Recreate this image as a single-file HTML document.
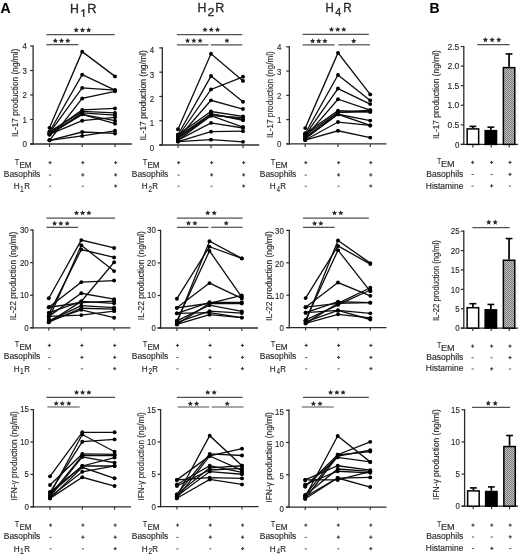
<!DOCTYPE html>
<html><head><meta charset="utf-8"><style>
html,body{margin:0;padding:0;background:#fff;}
body{width:520px;height:555px;overflow:hidden;}
svg{display:block;font-family:"Liberation Sans", sans-serif;filter:blur(0.22px);}
text{stroke:#2a2a2a;stroke-width:0.14px;}
text.ttl{stroke-width:0.3px;}
</style></head><body>
<svg width="520" height="555" viewBox="0 0 520 555">
<rect width="520" height="555" fill="#fff"/>
<defs><pattern id="hatch" width="2" height="2" patternUnits="userSpaceOnUse"><rect width="2" height="2" fill="#c0c0c0"/><rect width="1" height="1" fill="#7c7c7c"/><rect x="1" y="1" width="1" height="1" fill="#7c7c7c"/></pattern></defs><line x1="33.1" y1="45.4" x2="33.1" y2="144.6" stroke="#2b2b2b" stroke-width="1.3"/><line x1="30.1" y1="144.0" x2="131.8" y2="144.0" stroke="#2b2b2b" stroke-width="1.3"/><line x1="30.1" y1="144.0" x2="33.1" y2="144.0" stroke="#2b2b2b" stroke-width="1.2"/><text x="26.9" y="147.25" font-size="8.3" text-anchor="end" fill="#2a2a2a" textLength="4.39" lengthAdjust="spacingAndGlyphs">0</text><line x1="30.1" y1="119.5" x2="33.1" y2="119.5" stroke="#2b2b2b" stroke-width="1.2"/><text x="26.9" y="122.75" font-size="8.3" text-anchor="end" fill="#2a2a2a" textLength="4.39" lengthAdjust="spacingAndGlyphs">1</text><line x1="30.1" y1="95.0" x2="33.1" y2="95.0" stroke="#2b2b2b" stroke-width="1.2"/><text x="26.9" y="98.25" font-size="8.3" text-anchor="end" fill="#2a2a2a" textLength="4.39" lengthAdjust="spacingAndGlyphs">2</text><line x1="30.1" y1="70.5" x2="33.1" y2="70.5" stroke="#2b2b2b" stroke-width="1.2"/><text x="26.9" y="73.75" font-size="8.3" text-anchor="end" fill="#2a2a2a" textLength="4.39" lengthAdjust="spacingAndGlyphs">3</text><line x1="30.1" y1="46.0" x2="33.1" y2="46.0" stroke="#2b2b2b" stroke-width="1.2"/><text x="26.9" y="49.25" font-size="8.3" text-anchor="end" fill="#2a2a2a" textLength="4.39" lengthAdjust="spacingAndGlyphs">4</text><line x1="49.5" y1="144.0" x2="49.5" y2="147.0" stroke="#2b2b2b" stroke-width="1.1"/><line x1="82.2" y1="144.0" x2="82.2" y2="147.0" stroke="#2b2b2b" stroke-width="1.1"/><line x1="115.0" y1="144.0" x2="115.0" y2="147.0" stroke="#2b2b2b" stroke-width="1.1"/><text transform="translate(18.20,137.00) rotate(-90)" font-size="8.4" fill="#2a2a2a" textLength="88.40" lengthAdjust="spacingAndGlyphs">IL-17 production (ng/ml)</text><polyline points="49.5,127.83 82.2,51.64 115.0,76.38" fill="none" stroke="#0d0d0d" stroke-width="1.3"/><polyline points="49.5,131.75 82.2,74.66 115.0,90.10" fill="none" stroke="#0d0d0d" stroke-width="1.3"/><polyline points="49.5,132.97 82.2,87.89 115.0,90.10" fill="none" stroke="#0d0d0d" stroke-width="1.3"/><polyline points="49.5,140.32 82.2,98.43 115.0,91.33" fill="none" stroke="#0d0d0d" stroke-width="1.3"/><polyline points="49.5,132.97 82.2,109.94 115.0,108.47" fill="none" stroke="#0d0d0d" stroke-width="1.3"/><polyline points="49.5,131.75 82.2,111.41 115.0,112.88" fill="none" stroke="#0d0d0d" stroke-width="1.3"/><polyline points="49.5,134.44 82.2,112.88 115.0,115.09" fill="none" stroke="#0d0d0d" stroke-width="1.3"/><polyline points="49.5,134.44 82.2,114.36 115.0,120.72" fill="none" stroke="#0d0d0d" stroke-width="1.3"/><polyline points="49.5,132.97 82.2,114.36 115.0,123.67" fill="none" stroke="#0d0d0d" stroke-width="1.3"/><polyline points="49.5,134.44 82.2,120.72 115.0,117.30" fill="none" stroke="#0d0d0d" stroke-width="1.3"/><polyline points="49.5,140.32 82.2,132.00 115.0,133.47" fill="none" stroke="#0d0d0d" stroke-width="1.3"/><polyline points="49.5,140.32 82.2,135.91 115.0,130.77" fill="none" stroke="#0d0d0d" stroke-width="1.3"/><circle cx="49.5" cy="127.83" r="1.95" fill="#000"/><circle cx="82.2" cy="51.64" r="1.95" fill="#000"/><circle cx="115.0" cy="76.38" r="1.95" fill="#000"/><circle cx="49.5" cy="131.75" r="1.95" fill="#000"/><circle cx="82.2" cy="74.66" r="1.95" fill="#000"/><circle cx="115.0" cy="90.10" r="1.95" fill="#000"/><circle cx="49.5" cy="132.97" r="1.95" fill="#000"/><circle cx="82.2" cy="87.89" r="1.95" fill="#000"/><circle cx="115.0" cy="90.10" r="1.95" fill="#000"/><circle cx="49.5" cy="140.32" r="1.95" fill="#000"/><circle cx="82.2" cy="98.43" r="1.95" fill="#000"/><circle cx="115.0" cy="91.33" r="1.95" fill="#000"/><circle cx="49.5" cy="132.97" r="1.95" fill="#000"/><circle cx="82.2" cy="109.94" r="1.95" fill="#000"/><circle cx="115.0" cy="108.47" r="1.95" fill="#000"/><circle cx="49.5" cy="131.75" r="1.95" fill="#000"/><circle cx="82.2" cy="111.41" r="1.95" fill="#000"/><circle cx="115.0" cy="112.88" r="1.95" fill="#000"/><circle cx="49.5" cy="134.44" r="1.95" fill="#000"/><circle cx="82.2" cy="112.88" r="1.95" fill="#000"/><circle cx="115.0" cy="115.09" r="1.95" fill="#000"/><circle cx="49.5" cy="134.44" r="1.95" fill="#000"/><circle cx="82.2" cy="114.36" r="1.95" fill="#000"/><circle cx="115.0" cy="120.72" r="1.95" fill="#000"/><circle cx="49.5" cy="132.97" r="1.95" fill="#000"/><circle cx="82.2" cy="114.36" r="1.95" fill="#000"/><circle cx="115.0" cy="123.67" r="1.95" fill="#000"/><circle cx="49.5" cy="134.44" r="1.95" fill="#000"/><circle cx="82.2" cy="120.72" r="1.95" fill="#000"/><circle cx="115.0" cy="117.30" r="1.95" fill="#000"/><circle cx="49.5" cy="140.32" r="1.95" fill="#000"/><circle cx="82.2" cy="132.00" r="1.95" fill="#000"/><circle cx="115.0" cy="133.47" r="1.95" fill="#000"/><circle cx="49.5" cy="140.32" r="1.95" fill="#000"/><circle cx="82.2" cy="135.91" r="1.95" fill="#000"/><circle cx="115.0" cy="130.77" r="1.95" fill="#000"/><line x1="46.4" y1="34.6" x2="114.8" y2="34.6" stroke="#505050" stroke-width="1.2"/><polygon points="76.20,27.30 76.97,29.04 78.86,29.23 77.45,30.51 77.85,32.37 76.20,31.42 74.55,32.37 74.95,30.51 73.54,29.23 75.43,29.04" fill="#2a2a2a"/><polygon points="82.50,27.30 83.27,29.04 85.16,29.23 83.75,30.51 84.15,32.37 82.50,31.42 80.85,32.37 81.25,30.51 79.84,29.23 81.73,29.04" fill="#2a2a2a"/><polygon points="88.70,27.30 89.47,29.04 91.36,29.23 89.95,30.51 90.35,32.37 88.70,31.42 87.05,32.37 87.45,30.51 86.04,29.23 87.93,29.04" fill="#2a2a2a"/><line x1="46.4" y1="44.7" x2="78.4" y2="44.7" stroke="#505050" stroke-width="1.2"/><polygon points="55.30,38.00 56.07,39.74 57.96,39.93 56.55,41.21 56.95,43.07 55.30,42.12 53.65,43.07 54.05,41.21 52.64,39.93 54.53,39.74" fill="#2a2a2a"/><polygon points="61.50,38.00 62.27,39.74 64.16,39.93 62.75,41.21 63.15,43.07 61.50,42.12 59.85,43.07 60.25,41.21 58.84,39.93 60.73,39.74" fill="#2a2a2a"/><polygon points="67.80,38.00 68.57,39.74 70.46,39.93 69.05,41.21 69.45,43.07 67.80,42.12 66.15,43.07 66.55,41.21 65.14,39.93 67.03,39.74" fill="#2a2a2a"/><line x1="162.3" y1="47.3" x2="162.3" y2="145.6" stroke="#2b2b2b" stroke-width="1.3"/><line x1="159.3" y1="145.0" x2="259.2" y2="145.0" stroke="#2b2b2b" stroke-width="1.3"/><line x1="159.3" y1="145.0" x2="162.3" y2="145.0" stroke="#2b2b2b" stroke-width="1.2"/><text x="154.2" y="150.55" font-size="8.3" text-anchor="end" fill="#2a2a2a" textLength="4.39" lengthAdjust="spacingAndGlyphs">0</text><line x1="159.3" y1="120.725" x2="162.3" y2="120.725" stroke="#2b2b2b" stroke-width="1.2"/><text x="154.2" y="126.27499999999999" font-size="8.3" text-anchor="end" fill="#2a2a2a" textLength="4.39" lengthAdjust="spacingAndGlyphs">1</text><line x1="159.3" y1="96.45" x2="162.3" y2="96.45" stroke="#2b2b2b" stroke-width="1.2"/><text x="154.2" y="102.0" font-size="8.3" text-anchor="end" fill="#2a2a2a" textLength="4.39" lengthAdjust="spacingAndGlyphs">2</text><line x1="159.3" y1="72.17500000000001" x2="162.3" y2="72.17500000000001" stroke="#2b2b2b" stroke-width="1.2"/><text x="154.2" y="77.72500000000001" font-size="8.3" text-anchor="end" fill="#2a2a2a" textLength="4.39" lengthAdjust="spacingAndGlyphs">3</text><line x1="159.3" y1="47.900000000000006" x2="162.3" y2="47.900000000000006" stroke="#2b2b2b" stroke-width="1.2"/><text x="154.2" y="53.45" font-size="8.3" text-anchor="end" fill="#2a2a2a" textLength="4.39" lengthAdjust="spacingAndGlyphs">4</text><line x1="178.0" y1="145.0" x2="178.0" y2="148.0" stroke="#2b2b2b" stroke-width="1.1"/><line x1="211.0" y1="145.0" x2="211.0" y2="148.0" stroke="#2b2b2b" stroke-width="1.1"/><line x1="243.0" y1="145.0" x2="243.0" y2="148.0" stroke="#2b2b2b" stroke-width="1.1"/><text transform="translate(146.00,140.60) rotate(-90)" font-size="8.4" fill="#2a2a2a" textLength="90.40" lengthAdjust="spacingAndGlyphs">IL-17 production (ng/ml)</text><polyline points="178.0,129.22 211.0,53.73 243.0,80.91" fill="none" stroke="#0d0d0d" stroke-width="1.3"/><polyline points="178.0,134.80 211.0,76.06 243.0,101.79" fill="none" stroke="#0d0d0d" stroke-width="1.3"/><polyline points="178.0,136.50 211.0,89.41 243.0,76.79" fill="none" stroke="#0d0d0d" stroke-width="1.3"/><polyline points="178.0,138.20 211.0,100.33 243.0,109.07" fill="none" stroke="#0d0d0d" stroke-width="1.3"/><polyline points="178.0,134.80 211.0,111.50 243.0,116.36" fill="none" stroke="#0d0d0d" stroke-width="1.3"/><polyline points="178.0,136.50 211.0,113.93 243.0,119.27" fill="none" stroke="#0d0d0d" stroke-width="1.3"/><polyline points="178.0,138.20 211.0,115.63 243.0,127.04" fill="none" stroke="#0d0d0d" stroke-width="1.3"/><polyline points="178.0,140.15 211.0,115.63 243.0,117.57" fill="none" stroke="#0d0d0d" stroke-width="1.3"/><polyline points="178.0,140.15 211.0,122.91 243.0,128.01" fill="none" stroke="#0d0d0d" stroke-width="1.3"/><polyline points="178.0,141.60 211.0,131.65 243.0,131.16" fill="none" stroke="#0d0d0d" stroke-width="1.3"/><polyline points="178.0,141.60 211.0,139.66 243.0,141.84" fill="none" stroke="#0d0d0d" stroke-width="1.3"/><polyline points="178.0,138.20 211.0,113.93 243.0,120.24" fill="none" stroke="#0d0d0d" stroke-width="1.3"/><circle cx="178.0" cy="129.22" r="1.95" fill="#000"/><circle cx="211.0" cy="53.73" r="1.95" fill="#000"/><circle cx="243.0" cy="80.91" r="1.95" fill="#000"/><circle cx="178.0" cy="134.80" r="1.95" fill="#000"/><circle cx="211.0" cy="76.06" r="1.95" fill="#000"/><circle cx="243.0" cy="101.79" r="1.95" fill="#000"/><circle cx="178.0" cy="136.50" r="1.95" fill="#000"/><circle cx="211.0" cy="89.41" r="1.95" fill="#000"/><circle cx="243.0" cy="76.79" r="1.95" fill="#000"/><circle cx="178.0" cy="138.20" r="1.95" fill="#000"/><circle cx="211.0" cy="100.33" r="1.95" fill="#000"/><circle cx="243.0" cy="109.07" r="1.95" fill="#000"/><circle cx="178.0" cy="134.80" r="1.95" fill="#000"/><circle cx="211.0" cy="111.50" r="1.95" fill="#000"/><circle cx="243.0" cy="116.36" r="1.95" fill="#000"/><circle cx="178.0" cy="136.50" r="1.95" fill="#000"/><circle cx="211.0" cy="113.93" r="1.95" fill="#000"/><circle cx="243.0" cy="119.27" r="1.95" fill="#000"/><circle cx="178.0" cy="138.20" r="1.95" fill="#000"/><circle cx="211.0" cy="115.63" r="1.95" fill="#000"/><circle cx="243.0" cy="127.04" r="1.95" fill="#000"/><circle cx="178.0" cy="140.15" r="1.95" fill="#000"/><circle cx="211.0" cy="115.63" r="1.95" fill="#000"/><circle cx="243.0" cy="117.57" r="1.95" fill="#000"/><circle cx="178.0" cy="140.15" r="1.95" fill="#000"/><circle cx="211.0" cy="122.91" r="1.95" fill="#000"/><circle cx="243.0" cy="128.01" r="1.95" fill="#000"/><circle cx="178.0" cy="141.60" r="1.95" fill="#000"/><circle cx="211.0" cy="131.65" r="1.95" fill="#000"/><circle cx="243.0" cy="131.16" r="1.95" fill="#000"/><circle cx="178.0" cy="141.60" r="1.95" fill="#000"/><circle cx="211.0" cy="139.66" r="1.95" fill="#000"/><circle cx="243.0" cy="141.84" r="1.95" fill="#000"/><circle cx="178.0" cy="138.20" r="1.95" fill="#000"/><circle cx="211.0" cy="113.93" r="1.95" fill="#000"/><circle cx="243.0" cy="120.24" r="1.95" fill="#000"/><line x1="176.9" y1="34.6" x2="242.3" y2="34.6" stroke="#505050" stroke-width="1.2"/><polygon points="205.00,27.00 205.77,28.74 207.66,28.93 206.25,30.21 206.65,32.07 205.00,31.12 203.35,32.07 203.75,30.21 202.34,28.93 204.23,28.74" fill="#2a2a2a"/><polygon points="211.25,27.00 212.02,28.74 213.91,28.93 212.50,30.21 212.90,32.07 211.25,31.12 209.60,32.07 210.00,30.21 208.59,28.93 210.48,28.74" fill="#2a2a2a"/><polygon points="217.50,27.00 218.27,28.74 220.16,28.93 218.75,30.21 219.15,32.07 217.50,31.12 215.85,32.07 216.25,30.21 214.84,28.93 216.73,28.74" fill="#2a2a2a"/><line x1="176.9" y1="44.9" x2="208.5" y2="44.9" stroke="#505050" stroke-width="1.2"/><polygon points="187.60,37.90 188.37,39.64 190.26,39.83 188.85,41.11 189.25,42.97 187.60,42.02 185.95,42.97 186.35,41.11 184.94,39.83 186.83,39.64" fill="#2a2a2a"/><polygon points="193.85,37.90 194.62,39.64 196.51,39.83 195.10,41.11 195.50,42.97 193.85,42.02 192.20,42.97 192.60,41.11 191.19,39.83 193.08,39.64" fill="#2a2a2a"/><polygon points="200.10,37.90 200.87,39.64 202.76,39.83 201.35,41.11 201.75,42.97 200.10,42.02 198.45,42.97 198.85,41.11 197.44,39.83 199.33,39.64" fill="#2a2a2a"/><line x1="210.8" y1="44.9" x2="242.3" y2="44.9" stroke="#505050" stroke-width="1.2"/><polygon points="226.90,37.90 227.67,39.64 229.56,39.83 228.15,41.11 228.55,42.97 226.90,42.02 225.25,42.97 225.65,41.11 224.24,39.83 226.13,39.64" fill="#2a2a2a"/><line x1="289.3" y1="46.199999999999996" x2="289.3" y2="144.5" stroke="#2b2b2b" stroke-width="1.3"/><line x1="286.3" y1="143.9" x2="386.5" y2="143.9" stroke="#2b2b2b" stroke-width="1.3"/><line x1="286.3" y1="143.9" x2="289.3" y2="143.9" stroke="#2b2b2b" stroke-width="1.2"/><text x="281.3" y="147.45000000000002" font-size="8.3" text-anchor="end" fill="#2a2a2a" textLength="4.39" lengthAdjust="spacingAndGlyphs">0</text><line x1="286.3" y1="119.625" x2="289.3" y2="119.625" stroke="#2b2b2b" stroke-width="1.2"/><text x="281.3" y="123.175" font-size="8.3" text-anchor="end" fill="#2a2a2a" textLength="4.39" lengthAdjust="spacingAndGlyphs">1</text><line x1="286.3" y1="95.35" x2="289.3" y2="95.35" stroke="#2b2b2b" stroke-width="1.2"/><text x="281.3" y="98.89999999999999" font-size="8.3" text-anchor="end" fill="#2a2a2a" textLength="4.39" lengthAdjust="spacingAndGlyphs">2</text><line x1="286.3" y1="71.075" x2="289.3" y2="71.075" stroke="#2b2b2b" stroke-width="1.2"/><text x="281.3" y="74.625" font-size="8.3" text-anchor="end" fill="#2a2a2a" textLength="4.39" lengthAdjust="spacingAndGlyphs">3</text><line x1="286.3" y1="46.8" x2="289.3" y2="46.8" stroke="#2b2b2b" stroke-width="1.2"/><text x="281.3" y="50.349999999999994" font-size="8.3" text-anchor="end" fill="#2a2a2a" textLength="4.39" lengthAdjust="spacingAndGlyphs">4</text><line x1="305.2" y1="143.9" x2="305.2" y2="146.9" stroke="#2b2b2b" stroke-width="1.1"/><line x1="338.0" y1="143.9" x2="338.0" y2="146.9" stroke="#2b2b2b" stroke-width="1.1"/><line x1="370.2" y1="143.9" x2="370.2" y2="146.9" stroke="#2b2b2b" stroke-width="1.1"/><text transform="translate(272.60,138.10) rotate(-90)" font-size="8.4" fill="#2a2a2a" textLength="86.90" lengthAdjust="spacingAndGlyphs">IL-17 production (ng/ml)</text><polyline points="305.2,128.12 338.0,52.87 370.2,94.38" fill="none" stroke="#0d0d0d" stroke-width="1.3"/><polyline points="305.2,133.46 338.0,74.96 370.2,100.45" fill="none" stroke="#0d0d0d" stroke-width="1.3"/><polyline points="305.2,135.16 338.0,88.55 370.2,104.09" fill="none" stroke="#0d0d0d" stroke-width="1.3"/><polyline points="305.2,137.10 338.0,99.23 370.2,110.16" fill="none" stroke="#0d0d0d" stroke-width="1.3"/><polyline points="305.2,133.46 338.0,110.64 370.2,111.86" fill="none" stroke="#0d0d0d" stroke-width="1.3"/><polyline points="305.2,135.16 338.0,112.34 370.2,110.16" fill="none" stroke="#0d0d0d" stroke-width="1.3"/><polyline points="305.2,137.10 338.0,114.28 370.2,120.60" fill="none" stroke="#0d0d0d" stroke-width="1.3"/><polyline points="305.2,138.80 338.0,114.28 370.2,125.45" fill="none" stroke="#0d0d0d" stroke-width="1.3"/><polyline points="305.2,140.02 338.0,122.05 370.2,125.45" fill="none" stroke="#0d0d0d" stroke-width="1.3"/><polyline points="305.2,140.02 338.0,130.79 370.2,137.59" fill="none" stroke="#0d0d0d" stroke-width="1.3"/><polyline points="305.2,138.80 338.0,112.34 370.2,111.86" fill="none" stroke="#0d0d0d" stroke-width="1.3"/><circle cx="305.2" cy="128.12" r="1.95" fill="#000"/><circle cx="338.0" cy="52.87" r="1.95" fill="#000"/><circle cx="370.2" cy="94.38" r="1.95" fill="#000"/><circle cx="305.2" cy="133.46" r="1.95" fill="#000"/><circle cx="338.0" cy="74.96" r="1.95" fill="#000"/><circle cx="370.2" cy="100.45" r="1.95" fill="#000"/><circle cx="305.2" cy="135.16" r="1.95" fill="#000"/><circle cx="338.0" cy="88.55" r="1.95" fill="#000"/><circle cx="370.2" cy="104.09" r="1.95" fill="#000"/><circle cx="305.2" cy="137.10" r="1.95" fill="#000"/><circle cx="338.0" cy="99.23" r="1.95" fill="#000"/><circle cx="370.2" cy="110.16" r="1.95" fill="#000"/><circle cx="305.2" cy="133.46" r="1.95" fill="#000"/><circle cx="338.0" cy="110.64" r="1.95" fill="#000"/><circle cx="370.2" cy="111.86" r="1.95" fill="#000"/><circle cx="305.2" cy="135.16" r="1.95" fill="#000"/><circle cx="338.0" cy="112.34" r="1.95" fill="#000"/><circle cx="370.2" cy="110.16" r="1.95" fill="#000"/><circle cx="305.2" cy="137.10" r="1.95" fill="#000"/><circle cx="338.0" cy="114.28" r="1.95" fill="#000"/><circle cx="370.2" cy="120.60" r="1.95" fill="#000"/><circle cx="305.2" cy="138.80" r="1.95" fill="#000"/><circle cx="338.0" cy="114.28" r="1.95" fill="#000"/><circle cx="370.2" cy="125.45" r="1.95" fill="#000"/><circle cx="305.2" cy="140.02" r="1.95" fill="#000"/><circle cx="338.0" cy="122.05" r="1.95" fill="#000"/><circle cx="370.2" cy="125.45" r="1.95" fill="#000"/><circle cx="305.2" cy="140.02" r="1.95" fill="#000"/><circle cx="338.0" cy="130.79" r="1.95" fill="#000"/><circle cx="370.2" cy="137.59" r="1.95" fill="#000"/><circle cx="305.2" cy="138.80" r="1.95" fill="#000"/><circle cx="338.0" cy="112.34" r="1.95" fill="#000"/><circle cx="370.2" cy="111.86" r="1.95" fill="#000"/><line x1="302.6" y1="34.3" x2="368.8" y2="34.3" stroke="#505050" stroke-width="1.2"/><polygon points="331.50,26.70 332.27,28.44 334.16,28.63 332.75,29.91 333.15,31.77 331.50,30.82 329.85,31.77 330.25,29.91 328.84,28.63 330.73,28.44" fill="#2a2a2a"/><polygon points="337.70,26.70 338.47,28.44 340.36,28.63 338.95,29.91 339.35,31.77 337.70,30.82 336.05,31.77 336.45,29.91 335.04,28.63 336.93,28.44" fill="#2a2a2a"/><polygon points="343.80,26.70 344.57,28.44 346.46,28.63 345.05,29.91 345.45,31.77 343.80,30.82 342.15,31.77 342.55,29.91 341.14,28.63 343.03,28.44" fill="#2a2a2a"/><line x1="302.6" y1="44.8" x2="334.6" y2="44.8" stroke="#505050" stroke-width="1.2"/><polygon points="312.60,38.30 313.37,40.04 315.26,40.23 313.85,41.51 314.25,43.37 312.60,42.42 310.95,43.37 311.35,41.51 309.94,40.23 311.83,40.04" fill="#2a2a2a"/><polygon points="318.80,38.30 319.57,40.04 321.46,40.23 320.05,41.51 320.45,43.37 318.80,42.42 317.15,43.37 317.55,41.51 316.14,40.23 318.03,40.04" fill="#2a2a2a"/><polygon points="324.90,38.30 325.67,40.04 327.56,40.23 326.15,41.51 326.55,43.37 324.90,42.42 323.25,43.37 323.65,41.51 322.24,40.23 324.13,40.04" fill="#2a2a2a"/><line x1="338.3" y1="44.8" x2="370.0" y2="44.8" stroke="#505050" stroke-width="1.2"/><polygon points="353.70,38.30 354.47,40.04 356.36,40.23 354.95,41.51 355.35,43.37 353.70,42.42 352.05,43.37 352.45,41.51 351.04,40.23 352.93,40.04" fill="#2a2a2a"/><line x1="33.0" y1="229.4" x2="33.0" y2="328.40000000000003" stroke="#2b2b2b" stroke-width="1.3"/><line x1="30.0" y1="327.8" x2="130.5" y2="327.8" stroke="#2b2b2b" stroke-width="1.3"/><line x1="30.0" y1="327.8" x2="33.0" y2="327.8" stroke="#2b2b2b" stroke-width="1.2"/><text x="28.7" y="330.75" font-size="8.3" text-anchor="end" fill="#2a2a2a" textLength="4.39" lengthAdjust="spacingAndGlyphs">0</text><line x1="30.0" y1="295.2" x2="33.0" y2="295.2" stroke="#2b2b2b" stroke-width="1.2"/><text x="28.7" y="298.15" font-size="8.3" text-anchor="end" fill="#2a2a2a" textLength="8.79" lengthAdjust="spacingAndGlyphs">10</text><line x1="30.0" y1="262.6" x2="33.0" y2="262.6" stroke="#2b2b2b" stroke-width="1.2"/><text x="28.7" y="265.55" font-size="8.3" text-anchor="end" fill="#2a2a2a" textLength="8.79" lengthAdjust="spacingAndGlyphs">20</text><line x1="30.0" y1="230.0" x2="33.0" y2="230.0" stroke="#2b2b2b" stroke-width="1.2"/><text x="28.7" y="232.95" font-size="8.3" text-anchor="end" fill="#2a2a2a" textLength="8.79" lengthAdjust="spacingAndGlyphs">30</text><line x1="48.8" y1="327.8" x2="48.8" y2="330.8" stroke="#2b2b2b" stroke-width="1.1"/><line x1="81.3" y1="327.8" x2="81.3" y2="330.8" stroke="#2b2b2b" stroke-width="1.1"/><line x1="114.1" y1="327.8" x2="114.1" y2="330.8" stroke="#2b2b2b" stroke-width="1.1"/><text transform="translate(16.10,320.20) rotate(-90)" font-size="8.4" fill="#2a2a2a" textLength="88.60" lengthAdjust="spacingAndGlyphs">IL-22 production (ng/ml)</text><polyline points="48.8,298.23 81.3,240.11 114.1,247.93" fill="none" stroke="#0d0d0d" stroke-width="1.3"/><polyline points="48.8,319.00 81.3,245.32 114.1,271.08" fill="none" stroke="#0d0d0d" stroke-width="1.3"/><polyline points="48.8,314.11 81.3,249.56 114.1,257.38" fill="none" stroke="#0d0d0d" stroke-width="1.3"/><polyline points="48.8,307.26 81.3,282.16 114.1,280.53" fill="none" stroke="#0d0d0d" stroke-width="1.3"/><polyline points="48.8,316.39 81.3,293.24 114.1,299.11" fill="none" stroke="#0d0d0d" stroke-width="1.3"/><polyline points="48.8,322.26 81.3,301.39 114.1,262.27" fill="none" stroke="#0d0d0d" stroke-width="1.3"/><polyline points="48.8,307.26 81.3,302.70 114.1,301.07" fill="none" stroke="#0d0d0d" stroke-width="1.3"/><polyline points="48.8,312.80 81.3,301.39 114.1,303.35" fill="none" stroke="#0d0d0d" stroke-width="1.3"/><polyline points="48.8,320.95 81.3,305.63 114.1,307.59" fill="none" stroke="#0d0d0d" stroke-width="1.3"/><polyline points="48.8,322.26 81.3,308.24 114.1,309.22" fill="none" stroke="#0d0d0d" stroke-width="1.3"/><polyline points="48.8,320.95 81.3,309.87 114.1,317.69" fill="none" stroke="#0d0d0d" stroke-width="1.3"/><polyline points="48.8,316.39 81.3,315.09 114.1,311.17" fill="none" stroke="#0d0d0d" stroke-width="1.3"/><circle cx="48.8" cy="298.23" r="1.95" fill="#000"/><circle cx="81.3" cy="240.11" r="1.95" fill="#000"/><circle cx="114.1" cy="247.93" r="1.95" fill="#000"/><circle cx="48.8" cy="319.00" r="1.95" fill="#000"/><circle cx="81.3" cy="245.32" r="1.95" fill="#000"/><circle cx="114.1" cy="271.08" r="1.95" fill="#000"/><circle cx="48.8" cy="314.11" r="1.95" fill="#000"/><circle cx="81.3" cy="249.56" r="1.95" fill="#000"/><circle cx="114.1" cy="257.38" r="1.95" fill="#000"/><circle cx="48.8" cy="307.26" r="1.95" fill="#000"/><circle cx="81.3" cy="282.16" r="1.95" fill="#000"/><circle cx="114.1" cy="280.53" r="1.95" fill="#000"/><circle cx="48.8" cy="316.39" r="1.95" fill="#000"/><circle cx="81.3" cy="293.24" r="1.95" fill="#000"/><circle cx="114.1" cy="299.11" r="1.95" fill="#000"/><circle cx="48.8" cy="322.26" r="1.95" fill="#000"/><circle cx="81.3" cy="301.39" r="1.95" fill="#000"/><circle cx="114.1" cy="262.27" r="1.95" fill="#000"/><circle cx="48.8" cy="307.26" r="1.95" fill="#000"/><circle cx="81.3" cy="302.70" r="1.95" fill="#000"/><circle cx="114.1" cy="301.07" r="1.95" fill="#000"/><circle cx="48.8" cy="312.80" r="1.95" fill="#000"/><circle cx="81.3" cy="301.39" r="1.95" fill="#000"/><circle cx="114.1" cy="303.35" r="1.95" fill="#000"/><circle cx="48.8" cy="320.95" r="1.95" fill="#000"/><circle cx="81.3" cy="305.63" r="1.95" fill="#000"/><circle cx="114.1" cy="307.59" r="1.95" fill="#000"/><circle cx="48.8" cy="322.26" r="1.95" fill="#000"/><circle cx="81.3" cy="308.24" r="1.95" fill="#000"/><circle cx="114.1" cy="309.22" r="1.95" fill="#000"/><circle cx="48.8" cy="320.95" r="1.95" fill="#000"/><circle cx="81.3" cy="309.87" r="1.95" fill="#000"/><circle cx="114.1" cy="317.69" r="1.95" fill="#000"/><circle cx="48.8" cy="316.39" r="1.95" fill="#000"/><circle cx="81.3" cy="315.09" r="1.95" fill="#000"/><circle cx="114.1" cy="311.17" r="1.95" fill="#000"/><line x1="46.5" y1="218.1" x2="115.1" y2="218.1" stroke="#505050" stroke-width="1.2"/><polygon points="76.50,210.20 77.27,211.94 79.16,212.13 77.75,213.41 78.15,215.27 76.50,214.32 74.85,215.27 75.25,213.41 73.84,212.13 75.73,211.94" fill="#2a2a2a"/><polygon points="82.60,210.20 83.37,211.94 85.26,212.13 83.85,213.41 84.25,215.27 82.60,214.32 80.95,215.27 81.35,213.41 79.94,212.13 81.83,211.94" fill="#2a2a2a"/><polygon points="88.90,210.20 89.67,211.94 91.56,212.13 90.15,213.41 90.55,215.27 88.90,214.32 87.25,215.27 87.65,213.41 86.24,212.13 88.13,211.94" fill="#2a2a2a"/><line x1="46.5" y1="227.3" x2="78.2" y2="227.3" stroke="#505050" stroke-width="1.2"/><polygon points="54.60,220.70 55.37,222.44 57.26,222.63 55.85,223.91 56.25,225.77 54.60,224.82 52.95,225.77 53.35,223.91 51.94,222.63 53.83,222.44" fill="#2a2a2a"/><polygon points="60.80,220.70 61.57,222.44 63.46,222.63 62.05,223.91 62.45,225.77 60.80,224.82 59.15,225.77 59.55,223.91 58.14,222.63 60.03,222.44" fill="#2a2a2a"/><polygon points="67.20,220.70 67.97,222.44 69.86,222.63 68.45,223.91 68.85,225.77 67.20,224.82 65.55,225.77 65.95,223.91 64.54,222.63 66.43,222.44" fill="#2a2a2a"/><line x1="160.6" y1="229.8" x2="160.6" y2="328.6" stroke="#2b2b2b" stroke-width="1.3"/><line x1="157.6" y1="328.0" x2="258.1" y2="328.0" stroke="#2b2b2b" stroke-width="1.3"/><line x1="157.6" y1="328.0" x2="160.6" y2="328.0" stroke="#2b2b2b" stroke-width="1.2"/><text x="155.8" y="330.85" font-size="8.3" text-anchor="end" fill="#2a2a2a" textLength="4.39" lengthAdjust="spacingAndGlyphs">0</text><line x1="157.6" y1="295.4666666666667" x2="160.6" y2="295.4666666666667" stroke="#2b2b2b" stroke-width="1.2"/><text x="155.8" y="298.3166666666667" font-size="8.3" text-anchor="end" fill="#2a2a2a" textLength="8.79" lengthAdjust="spacingAndGlyphs">10</text><line x1="157.6" y1="262.93333333333334" x2="160.6" y2="262.93333333333334" stroke="#2b2b2b" stroke-width="1.2"/><text x="155.8" y="265.78333333333336" font-size="8.3" text-anchor="end" fill="#2a2a2a" textLength="8.79" lengthAdjust="spacingAndGlyphs">20</text><line x1="157.6" y1="230.4" x2="160.6" y2="230.4" stroke="#2b2b2b" stroke-width="1.2"/><text x="155.8" y="233.25" font-size="8.3" text-anchor="end" fill="#2a2a2a" textLength="8.79" lengthAdjust="spacingAndGlyphs">30</text><line x1="176.9" y1="328.0" x2="176.9" y2="331.0" stroke="#2b2b2b" stroke-width="1.1"/><line x1="209.5" y1="328.0" x2="209.5" y2="331.0" stroke="#2b2b2b" stroke-width="1.1"/><line x1="241.8" y1="328.0" x2="241.8" y2="331.0" stroke="#2b2b2b" stroke-width="1.1"/><text transform="translate(144.20,320.20) rotate(-90)" font-size="8.4" fill="#2a2a2a" textLength="89.00" lengthAdjust="spacingAndGlyphs">IL-22 production (ng/ml)</text><polyline points="176.9,298.72 209.5,246.67 241.8,258.38" fill="none" stroke="#0d0d0d" stroke-width="1.3"/><polyline points="176.9,322.47 209.5,241.14 241.8,258.38" fill="none" stroke="#0d0d0d" stroke-width="1.3"/><polyline points="176.9,320.84 209.5,250.90 241.8,297.09" fill="none" stroke="#0d0d0d" stroke-width="1.3"/><polyline points="176.9,307.83 209.5,283.10 241.8,298.39" fill="none" stroke="#0d0d0d" stroke-width="1.3"/><polyline points="176.9,313.36 209.5,302.30 241.8,302.30" fill="none" stroke="#0d0d0d" stroke-width="1.3"/><polyline points="176.9,324.42 209.5,303.27 241.8,295.47" fill="none" stroke="#0d0d0d" stroke-width="1.3"/><polyline points="176.9,320.84 209.5,305.23 241.8,311.41" fill="none" stroke="#0d0d0d" stroke-width="1.3"/><polyline points="176.9,322.47 209.5,311.08 241.8,313.03" fill="none" stroke="#0d0d0d" stroke-width="1.3"/><polyline points="176.9,324.42 209.5,314.66 241.8,317.59" fill="none" stroke="#0d0d0d" stroke-width="1.3"/><polyline points="176.9,307.83 209.5,303.27 241.8,303.60" fill="none" stroke="#0d0d0d" stroke-width="1.3"/><polyline points="176.9,313.36 209.5,312.71 241.8,317.59" fill="none" stroke="#0d0d0d" stroke-width="1.3"/><circle cx="176.9" cy="298.72" r="1.95" fill="#000"/><circle cx="209.5" cy="246.67" r="1.95" fill="#000"/><circle cx="241.8" cy="258.38" r="1.95" fill="#000"/><circle cx="176.9" cy="322.47" r="1.95" fill="#000"/><circle cx="209.5" cy="241.14" r="1.95" fill="#000"/><circle cx="241.8" cy="258.38" r="1.95" fill="#000"/><circle cx="176.9" cy="320.84" r="1.95" fill="#000"/><circle cx="209.5" cy="250.90" r="1.95" fill="#000"/><circle cx="241.8" cy="297.09" r="1.95" fill="#000"/><circle cx="176.9" cy="307.83" r="1.95" fill="#000"/><circle cx="209.5" cy="283.10" r="1.95" fill="#000"/><circle cx="241.8" cy="298.39" r="1.95" fill="#000"/><circle cx="176.9" cy="313.36" r="1.95" fill="#000"/><circle cx="209.5" cy="302.30" r="1.95" fill="#000"/><circle cx="241.8" cy="302.30" r="1.95" fill="#000"/><circle cx="176.9" cy="324.42" r="1.95" fill="#000"/><circle cx="209.5" cy="303.27" r="1.95" fill="#000"/><circle cx="241.8" cy="295.47" r="1.95" fill="#000"/><circle cx="176.9" cy="320.84" r="1.95" fill="#000"/><circle cx="209.5" cy="305.23" r="1.95" fill="#000"/><circle cx="241.8" cy="311.41" r="1.95" fill="#000"/><circle cx="176.9" cy="322.47" r="1.95" fill="#000"/><circle cx="209.5" cy="311.08" r="1.95" fill="#000"/><circle cx="241.8" cy="313.03" r="1.95" fill="#000"/><circle cx="176.9" cy="324.42" r="1.95" fill="#000"/><circle cx="209.5" cy="314.66" r="1.95" fill="#000"/><circle cx="241.8" cy="317.59" r="1.95" fill="#000"/><circle cx="176.9" cy="307.83" r="1.95" fill="#000"/><circle cx="209.5" cy="303.27" r="1.95" fill="#000"/><circle cx="241.8" cy="303.60" r="1.95" fill="#000"/><circle cx="176.9" cy="313.36" r="1.95" fill="#000"/><circle cx="209.5" cy="312.71" r="1.95" fill="#000"/><circle cx="241.8" cy="317.59" r="1.95" fill="#000"/><line x1="176.9" y1="218.1" x2="242.6" y2="218.1" stroke="#505050" stroke-width="1.2"/><polygon points="207.70,210.20 208.47,211.94 210.36,212.13 208.95,213.41 209.35,215.27 207.70,214.32 206.05,215.27 206.45,213.41 205.04,212.13 206.93,211.94" fill="#2a2a2a"/><polygon points="214.20,210.20 214.97,211.94 216.86,212.13 215.45,213.41 215.85,215.27 214.20,214.32 212.55,215.27 212.95,213.41 211.54,212.13 213.43,211.94" fill="#2a2a2a"/><line x1="176.9" y1="227.3" x2="208.5" y2="227.3" stroke="#505050" stroke-width="1.2"/><polygon points="188.50,220.50 189.27,222.24 191.16,222.43 189.75,223.71 190.15,225.57 188.50,224.62 186.85,225.57 187.25,223.71 185.84,222.43 187.73,222.24" fill="#2a2a2a"/><polygon points="194.90,220.50 195.67,222.24 197.56,222.43 196.15,223.71 196.55,225.57 194.90,224.62 193.25,225.57 193.65,223.71 192.24,222.43 194.13,222.24" fill="#2a2a2a"/><line x1="211.2" y1="227.3" x2="242.6" y2="227.3" stroke="#505050" stroke-width="1.2"/><polygon points="226.20,220.50 226.97,222.24 228.86,222.43 227.45,223.71 227.85,225.57 226.20,224.62 224.55,225.57 224.95,223.71 223.54,222.43 225.43,222.24" fill="#2a2a2a"/><line x1="289.3" y1="229.8" x2="289.3" y2="328.20000000000005" stroke="#2b2b2b" stroke-width="1.3"/><line x1="286.3" y1="327.6" x2="386.5" y2="327.6" stroke="#2b2b2b" stroke-width="1.3"/><line x1="286.3" y1="327.6" x2="289.3" y2="327.6" stroke="#2b2b2b" stroke-width="1.2"/><text x="283.8" y="331.45000000000005" font-size="8.3" text-anchor="end" fill="#2a2a2a" textLength="4.39" lengthAdjust="spacingAndGlyphs">0</text><line x1="286.3" y1="295.20000000000005" x2="289.3" y2="295.20000000000005" stroke="#2b2b2b" stroke-width="1.2"/><text x="283.8" y="299.05000000000007" font-size="8.3" text-anchor="end" fill="#2a2a2a" textLength="8.79" lengthAdjust="spacingAndGlyphs">10</text><line x1="286.3" y1="262.8" x2="289.3" y2="262.8" stroke="#2b2b2b" stroke-width="1.2"/><text x="283.8" y="266.65000000000003" font-size="8.3" text-anchor="end" fill="#2a2a2a" textLength="8.79" lengthAdjust="spacingAndGlyphs">20</text><line x1="286.3" y1="230.4" x2="289.3" y2="230.4" stroke="#2b2b2b" stroke-width="1.2"/><text x="283.8" y="234.25" font-size="8.3" text-anchor="end" fill="#2a2a2a" textLength="8.79" lengthAdjust="spacingAndGlyphs">30</text><line x1="305.6" y1="327.6" x2="305.6" y2="330.6" stroke="#2b2b2b" stroke-width="1.1"/><line x1="338.0" y1="327.6" x2="338.0" y2="330.6" stroke="#2b2b2b" stroke-width="1.1"/><line x1="370.3" y1="327.6" x2="370.3" y2="330.6" stroke="#2b2b2b" stroke-width="1.1"/><text transform="translate(272.20,320.90) rotate(-90)" font-size="8.4" fill="#2a2a2a" textLength="89.70" lengthAdjust="spacingAndGlyphs">IL-22 production (ng/ml)</text><polyline points="305.6,298.12 338.0,245.95 370.3,264.10" fill="none" stroke="#0d0d0d" stroke-width="1.3"/><polyline points="305.6,321.77 338.0,240.44 370.3,263.12" fill="none" stroke="#0d0d0d" stroke-width="1.3"/><polyline points="305.6,320.15 338.0,250.16 370.3,291.31" fill="none" stroke="#0d0d0d" stroke-width="1.3"/><polyline points="305.6,307.19 338.0,282.56 370.3,295.85" fill="none" stroke="#0d0d0d" stroke-width="1.3"/><polyline points="305.6,312.70 338.0,301.68 370.3,302.65" fill="none" stroke="#0d0d0d" stroke-width="1.3"/><polyline points="305.6,323.39 338.0,303.30 370.3,287.75" fill="none" stroke="#0d0d0d" stroke-width="1.3"/><polyline points="305.6,307.19 338.0,303.30 370.3,302.65" fill="none" stroke="#0d0d0d" stroke-width="1.3"/><polyline points="305.6,320.15 338.0,304.92 370.3,290.02" fill="none" stroke="#0d0d0d" stroke-width="1.3"/><polyline points="305.6,321.77 338.0,310.43 370.3,313.34" fill="none" stroke="#0d0d0d" stroke-width="1.3"/><polyline points="305.6,323.39 338.0,314.32 370.3,317.88" fill="none" stroke="#0d0d0d" stroke-width="1.3"/><polyline points="305.6,312.70 338.0,310.43 370.3,319.50" fill="none" stroke="#0d0d0d" stroke-width="1.3"/><circle cx="305.6" cy="298.12" r="1.95" fill="#000"/><circle cx="338.0" cy="245.95" r="1.95" fill="#000"/><circle cx="370.3" cy="264.10" r="1.95" fill="#000"/><circle cx="305.6" cy="321.77" r="1.95" fill="#000"/><circle cx="338.0" cy="240.44" r="1.95" fill="#000"/><circle cx="370.3" cy="263.12" r="1.95" fill="#000"/><circle cx="305.6" cy="320.15" r="1.95" fill="#000"/><circle cx="338.0" cy="250.16" r="1.95" fill="#000"/><circle cx="370.3" cy="291.31" r="1.95" fill="#000"/><circle cx="305.6" cy="307.19" r="1.95" fill="#000"/><circle cx="338.0" cy="282.56" r="1.95" fill="#000"/><circle cx="370.3" cy="295.85" r="1.95" fill="#000"/><circle cx="305.6" cy="312.70" r="1.95" fill="#000"/><circle cx="338.0" cy="301.68" r="1.95" fill="#000"/><circle cx="370.3" cy="302.65" r="1.95" fill="#000"/><circle cx="305.6" cy="323.39" r="1.95" fill="#000"/><circle cx="338.0" cy="303.30" r="1.95" fill="#000"/><circle cx="370.3" cy="287.75" r="1.95" fill="#000"/><circle cx="305.6" cy="307.19" r="1.95" fill="#000"/><circle cx="338.0" cy="303.30" r="1.95" fill="#000"/><circle cx="370.3" cy="302.65" r="1.95" fill="#000"/><circle cx="305.6" cy="320.15" r="1.95" fill="#000"/><circle cx="338.0" cy="304.92" r="1.95" fill="#000"/><circle cx="370.3" cy="290.02" r="1.95" fill="#000"/><circle cx="305.6" cy="321.77" r="1.95" fill="#000"/><circle cx="338.0" cy="310.43" r="1.95" fill="#000"/><circle cx="370.3" cy="313.34" r="1.95" fill="#000"/><circle cx="305.6" cy="323.39" r="1.95" fill="#000"/><circle cx="338.0" cy="314.32" r="1.95" fill="#000"/><circle cx="370.3" cy="317.88" r="1.95" fill="#000"/><circle cx="305.6" cy="312.70" r="1.95" fill="#000"/><circle cx="338.0" cy="310.43" r="1.95" fill="#000"/><circle cx="370.3" cy="319.50" r="1.95" fill="#000"/><line x1="302.9" y1="218.1" x2="368.8" y2="218.1" stroke="#505050" stroke-width="1.2"/><polygon points="334.50,210.20 335.27,211.94 337.16,212.13 335.75,213.41 336.15,215.27 334.50,214.32 332.85,215.27 333.25,213.41 331.84,212.13 333.73,211.94" fill="#2a2a2a"/><polygon points="340.80,210.20 341.57,211.94 343.46,212.13 342.05,213.41 342.45,215.27 340.80,214.32 339.15,215.27 339.55,213.41 338.14,212.13 340.03,211.94" fill="#2a2a2a"/><line x1="302.9" y1="227.3" x2="334.6" y2="227.3" stroke="#505050" stroke-width="1.2"/><polygon points="314.60,220.70 315.37,222.44 317.26,222.63 315.85,223.91 316.25,225.77 314.60,224.82 312.95,225.77 313.35,223.91 311.94,222.63 313.83,222.44" fill="#2a2a2a"/><polygon points="320.80,220.70 321.57,222.44 323.46,222.63 322.05,223.91 322.45,225.77 320.80,224.82 319.15,225.77 319.55,223.91 318.14,222.63 320.03,222.44" fill="#2a2a2a"/><line x1="33.4" y1="409.0" x2="33.4" y2="507.40000000000003" stroke="#2b2b2b" stroke-width="1.3"/><line x1="30.4" y1="506.8" x2="131.0" y2="506.8" stroke="#2b2b2b" stroke-width="1.3"/><line x1="30.4" y1="506.8" x2="33.4" y2="506.8" stroke="#2b2b2b" stroke-width="1.2"/><text x="29.0" y="509.55" font-size="8.3" text-anchor="end" fill="#2a2a2a" textLength="4.39" lengthAdjust="spacingAndGlyphs">0</text><line x1="30.4" y1="474.40000000000003" x2="33.4" y2="474.40000000000003" stroke="#2b2b2b" stroke-width="1.2"/><text x="29.0" y="477.15000000000003" font-size="8.3" text-anchor="end" fill="#2a2a2a" textLength="4.39" lengthAdjust="spacingAndGlyphs">5</text><line x1="30.4" y1="442.0" x2="33.4" y2="442.0" stroke="#2b2b2b" stroke-width="1.2"/><text x="29.0" y="444.75" font-size="8.3" text-anchor="end" fill="#2a2a2a" textLength="8.79" lengthAdjust="spacingAndGlyphs">10</text><line x1="30.4" y1="409.6" x2="33.4" y2="409.6" stroke="#2b2b2b" stroke-width="1.2"/><text x="29.0" y="412.35" font-size="8.3" text-anchor="end" fill="#2a2a2a" textLength="8.79" lengthAdjust="spacingAndGlyphs">15</text><line x1="50.0" y1="506.8" x2="50.0" y2="509.8" stroke="#2b2b2b" stroke-width="1.1"/><line x1="82.3" y1="506.8" x2="82.3" y2="509.8" stroke="#2b2b2b" stroke-width="1.1"/><line x1="114.6" y1="506.8" x2="114.6" y2="509.8" stroke="#2b2b2b" stroke-width="1.1"/><text transform="translate(17.10,500.60) rotate(-90)" font-size="8.4" fill="#2a2a2a" textLength="89.40" lengthAdjust="spacingAndGlyphs">IFN-&#947; production (ng/ml)</text><polyline points="50.0,476.34 82.3,432.28 114.6,432.28" fill="none" stroke="#0d0d0d" stroke-width="1.3"/><polyline points="50.0,493.84 82.3,434.55 114.6,451.72" fill="none" stroke="#0d0d0d" stroke-width="1.3"/><polyline points="50.0,492.28 82.3,441.68 114.6,439.41" fill="none" stroke="#0d0d0d" stroke-width="1.3"/><polyline points="50.0,484.96 82.3,453.92 114.6,454.31" fill="none" stroke="#0d0d0d" stroke-width="1.3"/><polyline points="50.0,495.33 82.3,455.61 114.6,455.61" fill="none" stroke="#0d0d0d" stroke-width="1.3"/><polyline points="50.0,496.89 82.3,456.90 114.6,462.74" fill="none" stroke="#0d0d0d" stroke-width="1.3"/><polyline points="50.0,492.28 82.3,465.98 114.6,457.55" fill="none" stroke="#0d0d0d" stroke-width="1.3"/><polyline points="50.0,498.38 82.3,467.27 114.6,478.29" fill="none" stroke="#0d0d0d" stroke-width="1.3"/><polyline points="50.0,496.89 82.3,471.81 114.6,465.98" fill="none" stroke="#0d0d0d" stroke-width="1.3"/><polyline points="50.0,498.38 82.3,477.32 114.6,486.06" fill="none" stroke="#0d0d0d" stroke-width="1.3"/><polyline points="50.0,493.84 82.3,465.98 114.6,465.98" fill="none" stroke="#0d0d0d" stroke-width="1.3"/><circle cx="50.0" cy="476.34" r="1.95" fill="#000"/><circle cx="82.3" cy="432.28" r="1.95" fill="#000"/><circle cx="114.6" cy="432.28" r="1.95" fill="#000"/><circle cx="50.0" cy="493.84" r="1.95" fill="#000"/><circle cx="82.3" cy="434.55" r="1.95" fill="#000"/><circle cx="114.6" cy="451.72" r="1.95" fill="#000"/><circle cx="50.0" cy="492.28" r="1.95" fill="#000"/><circle cx="82.3" cy="441.68" r="1.95" fill="#000"/><circle cx="114.6" cy="439.41" r="1.95" fill="#000"/><circle cx="50.0" cy="484.96" r="1.95" fill="#000"/><circle cx="82.3" cy="453.92" r="1.95" fill="#000"/><circle cx="114.6" cy="454.31" r="1.95" fill="#000"/><circle cx="50.0" cy="495.33" r="1.95" fill="#000"/><circle cx="82.3" cy="455.61" r="1.95" fill="#000"/><circle cx="114.6" cy="455.61" r="1.95" fill="#000"/><circle cx="50.0" cy="496.89" r="1.95" fill="#000"/><circle cx="82.3" cy="456.90" r="1.95" fill="#000"/><circle cx="114.6" cy="462.74" r="1.95" fill="#000"/><circle cx="50.0" cy="492.28" r="1.95" fill="#000"/><circle cx="82.3" cy="465.98" r="1.95" fill="#000"/><circle cx="114.6" cy="457.55" r="1.95" fill="#000"/><circle cx="50.0" cy="498.38" r="1.95" fill="#000"/><circle cx="82.3" cy="467.27" r="1.95" fill="#000"/><circle cx="114.6" cy="478.29" r="1.95" fill="#000"/><circle cx="50.0" cy="496.89" r="1.95" fill="#000"/><circle cx="82.3" cy="471.81" r="1.95" fill="#000"/><circle cx="114.6" cy="465.98" r="1.95" fill="#000"/><circle cx="50.0" cy="498.38" r="1.95" fill="#000"/><circle cx="82.3" cy="477.32" r="1.95" fill="#000"/><circle cx="114.6" cy="486.06" r="1.95" fill="#000"/><circle cx="50.0" cy="493.84" r="1.95" fill="#000"/><circle cx="82.3" cy="465.98" r="1.95" fill="#000"/><circle cx="114.6" cy="465.98" r="1.95" fill="#000"/><line x1="46.5" y1="397.3" x2="115.1" y2="397.3" stroke="#505050" stroke-width="1.2"/><polygon points="76.50,389.70 77.27,391.44 79.16,391.63 77.75,392.91 78.15,394.77 76.50,393.82 74.85,394.77 75.25,392.91 73.84,391.63 75.73,391.44" fill="#2a2a2a"/><polygon points="82.60,389.70 83.37,391.44 85.26,391.63 83.85,392.91 84.25,394.77 82.60,393.82 80.95,394.77 81.35,392.91 79.94,391.63 81.83,391.44" fill="#2a2a2a"/><polygon points="88.90,389.70 89.67,391.44 91.56,391.63 90.15,392.91 90.55,394.77 88.90,393.82 87.25,394.77 87.65,392.91 86.24,391.63 88.13,391.44" fill="#2a2a2a"/><line x1="47.4" y1="407.0" x2="79.7" y2="407.0" stroke="#505050" stroke-width="1.2"/><polygon points="56.20,400.70 56.97,402.44 58.86,402.63 57.45,403.91 57.85,405.77 56.20,404.82 54.55,405.77 54.95,403.91 53.54,402.63 55.43,402.44" fill="#2a2a2a"/><polygon points="62.30,400.70 63.07,402.44 64.96,402.63 63.55,403.91 63.95,405.77 62.30,404.82 60.65,405.77 61.05,403.91 59.64,402.63 61.53,402.44" fill="#2a2a2a"/><polygon points="68.80,400.70 69.57,402.44 71.46,402.63 70.05,403.91 70.45,405.77 68.80,404.82 67.15,405.77 67.55,403.91 66.14,402.63 68.03,402.44" fill="#2a2a2a"/><line x1="160.6" y1="409.0" x2="160.6" y2="507.20000000000005" stroke="#2b2b2b" stroke-width="1.3"/><line x1="157.6" y1="506.6" x2="258.6" y2="506.6" stroke="#2b2b2b" stroke-width="1.3"/><line x1="157.6" y1="506.6" x2="160.6" y2="506.6" stroke="#2b2b2b" stroke-width="1.2"/><text x="155.8" y="509.55" font-size="8.3" text-anchor="end" fill="#2a2a2a" textLength="4.39" lengthAdjust="spacingAndGlyphs">0</text><line x1="157.6" y1="474.2666666666667" x2="160.6" y2="474.2666666666667" stroke="#2b2b2b" stroke-width="1.2"/><text x="155.8" y="477.2166666666667" font-size="8.3" text-anchor="end" fill="#2a2a2a" textLength="4.39" lengthAdjust="spacingAndGlyphs">5</text><line x1="157.6" y1="441.93333333333334" x2="160.6" y2="441.93333333333334" stroke="#2b2b2b" stroke-width="1.2"/><text x="155.8" y="444.8833333333333" font-size="8.3" text-anchor="end" fill="#2a2a2a" textLength="8.79" lengthAdjust="spacingAndGlyphs">10</text><line x1="157.6" y1="409.6" x2="160.6" y2="409.6" stroke="#2b2b2b" stroke-width="1.2"/><text x="155.8" y="412.55" font-size="8.3" text-anchor="end" fill="#2a2a2a" textLength="8.79" lengthAdjust="spacingAndGlyphs">15</text><line x1="176.9" y1="506.6" x2="176.9" y2="509.6" stroke="#2b2b2b" stroke-width="1.1"/><line x1="209.7" y1="506.6" x2="209.7" y2="509.6" stroke="#2b2b2b" stroke-width="1.1"/><line x1="242.0" y1="506.6" x2="242.0" y2="509.6" stroke="#2b2b2b" stroke-width="1.1"/><text transform="translate(144.20,500.60) rotate(-90)" font-size="8.4" fill="#2a2a2a" textLength="88.40" lengthAdjust="spacingAndGlyphs">IFN-&#947; production (ng/ml)</text><polyline points="176.9,496.25 209.7,435.66 242.0,465.73" fill="none" stroke="#0d0d0d" stroke-width="1.3"/><polyline points="176.9,494.38 209.7,453.96 242.0,455.51" fill="none" stroke="#0d0d0d" stroke-width="1.3"/><polyline points="176.9,479.89 209.7,455.97 242.0,448.66" fill="none" stroke="#0d0d0d" stroke-width="1.3"/><polyline points="176.9,498.19 209.7,455.97 242.0,470.39" fill="none" stroke="#0d0d0d" stroke-width="1.3"/><polyline points="176.9,484.48 209.7,465.73 242.0,472.33" fill="none" stroke="#0d0d0d" stroke-width="1.3"/><polyline points="176.9,494.38 209.7,467.80 242.0,465.73" fill="none" stroke="#0d0d0d" stroke-width="1.3"/><polyline points="176.9,486.04 209.7,470.00 242.0,468.45" fill="none" stroke="#0d0d0d" stroke-width="1.3"/><polyline points="176.9,496.25 209.7,471.55 242.0,474.27" fill="none" stroke="#0d0d0d" stroke-width="1.3"/><polyline points="176.9,479.89 209.7,477.63 242.0,478.41" fill="none" stroke="#0d0d0d" stroke-width="1.3"/><polyline points="176.9,498.19 209.7,479.44 242.0,484.48" fill="none" stroke="#0d0d0d" stroke-width="1.3"/><circle cx="176.9" cy="496.25" r="1.95" fill="#000"/><circle cx="209.7" cy="435.66" r="1.95" fill="#000"/><circle cx="242.0" cy="465.73" r="1.95" fill="#000"/><circle cx="176.9" cy="494.38" r="1.95" fill="#000"/><circle cx="209.7" cy="453.96" r="1.95" fill="#000"/><circle cx="242.0" cy="455.51" r="1.95" fill="#000"/><circle cx="176.9" cy="479.89" r="1.95" fill="#000"/><circle cx="209.7" cy="455.97" r="1.95" fill="#000"/><circle cx="242.0" cy="448.66" r="1.95" fill="#000"/><circle cx="176.9" cy="498.19" r="1.95" fill="#000"/><circle cx="209.7" cy="455.97" r="1.95" fill="#000"/><circle cx="242.0" cy="470.39" r="1.95" fill="#000"/><circle cx="176.9" cy="484.48" r="1.95" fill="#000"/><circle cx="209.7" cy="465.73" r="1.95" fill="#000"/><circle cx="242.0" cy="472.33" r="1.95" fill="#000"/><circle cx="176.9" cy="494.38" r="1.95" fill="#000"/><circle cx="209.7" cy="467.80" r="1.95" fill="#000"/><circle cx="242.0" cy="465.73" r="1.95" fill="#000"/><circle cx="176.9" cy="486.04" r="1.95" fill="#000"/><circle cx="209.7" cy="470.00" r="1.95" fill="#000"/><circle cx="242.0" cy="468.45" r="1.95" fill="#000"/><circle cx="176.9" cy="496.25" r="1.95" fill="#000"/><circle cx="209.7" cy="471.55" r="1.95" fill="#000"/><circle cx="242.0" cy="474.27" r="1.95" fill="#000"/><circle cx="176.9" cy="479.89" r="1.95" fill="#000"/><circle cx="209.7" cy="477.63" r="1.95" fill="#000"/><circle cx="242.0" cy="478.41" r="1.95" fill="#000"/><circle cx="176.9" cy="498.19" r="1.95" fill="#000"/><circle cx="209.7" cy="479.44" r="1.95" fill="#000"/><circle cx="242.0" cy="484.48" r="1.95" fill="#000"/><line x1="176.9" y1="397.3" x2="242.6" y2="397.3" stroke="#505050" stroke-width="1.2"/><polygon points="207.70,389.70 208.47,391.44 210.36,391.63 208.95,392.91 209.35,394.77 207.70,393.82 206.05,394.77 206.45,392.91 205.04,391.63 206.93,391.44" fill="#2a2a2a"/><polygon points="214.20,389.70 214.97,391.44 216.86,391.63 215.45,392.91 215.85,394.77 214.20,393.82 212.55,394.77 212.95,392.91 211.54,391.63 213.43,391.44" fill="#2a2a2a"/><line x1="177.7" y1="407.0" x2="209.2" y2="407.0" stroke="#505050" stroke-width="1.2"/><polygon points="190.30,401.00 191.07,402.74 192.96,402.93 191.55,404.21 191.95,406.07 190.30,405.12 188.65,406.07 189.05,404.21 187.64,402.93 189.53,402.74" fill="#2a2a2a"/><polygon points="196.60,401.00 197.37,402.74 199.26,402.93 197.85,404.21 198.25,406.07 196.60,405.12 194.95,406.07 195.35,404.21 193.94,402.93 195.83,402.74" fill="#2a2a2a"/><line x1="211.8" y1="407.0" x2="243.5" y2="407.0" stroke="#505050" stroke-width="1.2"/><polygon points="227.20,401.00 227.97,402.74 229.86,402.93 228.45,404.21 228.85,406.07 227.20,405.12 225.55,406.07 225.95,404.21 224.54,402.93 226.43,402.74" fill="#2a2a2a"/><line x1="289.0" y1="409.59999999999997" x2="289.0" y2="507.70000000000005" stroke="#2b2b2b" stroke-width="1.3"/><line x1="286.0" y1="507.1" x2="386.5" y2="507.1" stroke="#2b2b2b" stroke-width="1.3"/><line x1="286.0" y1="507.1" x2="289.0" y2="507.1" stroke="#2b2b2b" stroke-width="1.2"/><text x="283.9" y="511.55" font-size="8.3" text-anchor="end" fill="#2a2a2a" textLength="4.39" lengthAdjust="spacingAndGlyphs">0</text><line x1="286.0" y1="474.8" x2="289.0" y2="474.8" stroke="#2b2b2b" stroke-width="1.2"/><text x="283.9" y="479.25" font-size="8.3" text-anchor="end" fill="#2a2a2a" textLength="4.39" lengthAdjust="spacingAndGlyphs">5</text><line x1="286.0" y1="442.5" x2="289.0" y2="442.5" stroke="#2b2b2b" stroke-width="1.2"/><text x="283.9" y="446.95" font-size="8.3" text-anchor="end" fill="#2a2a2a" textLength="8.79" lengthAdjust="spacingAndGlyphs">10</text><line x1="286.0" y1="410.2" x2="289.0" y2="410.2" stroke="#2b2b2b" stroke-width="1.2"/><text x="283.9" y="414.65" font-size="8.3" text-anchor="end" fill="#2a2a2a" textLength="8.79" lengthAdjust="spacingAndGlyphs">15</text><line x1="305.2" y1="507.1" x2="305.2" y2="510.1" stroke="#2b2b2b" stroke-width="1.1"/><line x1="337.7" y1="507.1" x2="337.7" y2="510.1" stroke="#2b2b2b" stroke-width="1.1"/><line x1="370.2" y1="507.1" x2="370.2" y2="510.1" stroke="#2b2b2b" stroke-width="1.1"/><text transform="translate(272.20,502.70) rotate(-90)" font-size="8.4" fill="#2a2a2a" textLength="90.50" lengthAdjust="spacingAndGlyphs">IFN-&#947; production (ng/ml)</text><polyline points="305.2,496.76 337.7,436.04 370.2,461.88" fill="none" stroke="#0d0d0d" stroke-width="1.3"/><polyline points="305.2,495.15 337.7,454.77 370.2,441.85" fill="none" stroke="#0d0d0d" stroke-width="1.3"/><polyline points="305.2,498.70 337.7,456.07 370.2,450.25" fill="none" stroke="#0d0d0d" stroke-width="1.3"/><polyline points="305.2,486.43 337.7,457.36 370.2,461.88" fill="none" stroke="#0d0d0d" stroke-width="1.3"/><polyline points="305.2,479.97 337.7,465.76 370.2,470.08" fill="none" stroke="#0d0d0d" stroke-width="1.3"/><polyline points="305.2,495.15 337.7,468.99 370.2,471.31" fill="none" stroke="#0d0d0d" stroke-width="1.3"/><polyline points="305.2,484.49 337.7,471.25 370.2,472.86" fill="none" stroke="#0d0d0d" stroke-width="1.3"/><polyline points="305.2,496.76 337.7,478.03 370.2,487.07" fill="none" stroke="#0d0d0d" stroke-width="1.3"/><polyline points="305.2,479.97 337.7,479.97 370.2,471.57" fill="none" stroke="#0d0d0d" stroke-width="1.3"/><polyline points="305.2,498.70 337.7,478.03 370.2,477.38" fill="none" stroke="#0d0d0d" stroke-width="1.3"/><polyline points="305.2,486.43 337.7,454.77 370.2,451.54" fill="none" stroke="#0d0d0d" stroke-width="1.3"/><circle cx="305.2" cy="496.76" r="1.95" fill="#000"/><circle cx="337.7" cy="436.04" r="1.95" fill="#000"/><circle cx="370.2" cy="461.88" r="1.95" fill="#000"/><circle cx="305.2" cy="495.15" r="1.95" fill="#000"/><circle cx="337.7" cy="454.77" r="1.95" fill="#000"/><circle cx="370.2" cy="441.85" r="1.95" fill="#000"/><circle cx="305.2" cy="498.70" r="1.95" fill="#000"/><circle cx="337.7" cy="456.07" r="1.95" fill="#000"/><circle cx="370.2" cy="450.25" r="1.95" fill="#000"/><circle cx="305.2" cy="486.43" r="1.95" fill="#000"/><circle cx="337.7" cy="457.36" r="1.95" fill="#000"/><circle cx="370.2" cy="461.88" r="1.95" fill="#000"/><circle cx="305.2" cy="479.97" r="1.95" fill="#000"/><circle cx="337.7" cy="465.76" r="1.95" fill="#000"/><circle cx="370.2" cy="470.08" r="1.95" fill="#000"/><circle cx="305.2" cy="495.15" r="1.95" fill="#000"/><circle cx="337.7" cy="468.99" r="1.95" fill="#000"/><circle cx="370.2" cy="471.31" r="1.95" fill="#000"/><circle cx="305.2" cy="484.49" r="1.95" fill="#000"/><circle cx="337.7" cy="471.25" r="1.95" fill="#000"/><circle cx="370.2" cy="472.86" r="1.95" fill="#000"/><circle cx="305.2" cy="496.76" r="1.95" fill="#000"/><circle cx="337.7" cy="478.03" r="1.95" fill="#000"/><circle cx="370.2" cy="487.07" r="1.95" fill="#000"/><circle cx="305.2" cy="479.97" r="1.95" fill="#000"/><circle cx="337.7" cy="479.97" r="1.95" fill="#000"/><circle cx="370.2" cy="471.57" r="1.95" fill="#000"/><circle cx="305.2" cy="498.70" r="1.95" fill="#000"/><circle cx="337.7" cy="478.03" r="1.95" fill="#000"/><circle cx="370.2" cy="477.38" r="1.95" fill="#000"/><circle cx="305.2" cy="486.43" r="1.95" fill="#000"/><circle cx="337.7" cy="454.77" r="1.95" fill="#000"/><circle cx="370.2" cy="451.54" r="1.95" fill="#000"/><line x1="302.9" y1="397.3" x2="368.8" y2="397.3" stroke="#505050" stroke-width="1.2"/><polygon points="330.60,389.70 331.37,391.44 333.26,391.63 331.85,392.91 332.25,394.77 330.60,393.82 328.95,394.77 329.35,392.91 327.94,391.63 329.83,391.44" fill="#2a2a2a"/><polygon points="336.90,389.70 337.67,391.44 339.56,391.63 338.15,392.91 338.55,394.77 336.90,393.82 335.25,394.77 335.65,392.91 334.24,391.63 336.13,391.44" fill="#2a2a2a"/><polygon points="343.10,389.70 343.87,391.44 345.76,391.63 344.35,392.91 344.75,394.77 343.10,393.82 341.45,394.77 341.85,392.91 340.44,391.63 342.33,391.44" fill="#2a2a2a"/><line x1="301.8" y1="407.0" x2="333.7" y2="407.0" stroke="#505050" stroke-width="1.2"/><polygon points="313.40,401.00 314.17,402.74 316.06,402.93 314.65,404.21 315.05,406.07 313.40,405.12 311.75,406.07 312.15,404.21 310.74,402.93 312.63,402.74" fill="#2a2a2a"/><polygon points="320.00,401.00 320.77,402.74 322.66,402.93 321.25,404.21 321.65,406.07 320.00,405.12 318.35,406.07 318.75,404.21 317.34,402.93 319.23,402.74" fill="#2a2a2a"/><line x1="463.8" y1="45.9" x2="463.8" y2="145.0" stroke="#2b2b2b" stroke-width="1.3"/><line x1="460.8" y1="144.4" x2="518.1" y2="144.4" stroke="#2b2b2b" stroke-width="1.3"/><line x1="460.8" y1="144.4" x2="463.8" y2="144.4" stroke="#2b2b2b" stroke-width="1.2"/><text x="459.4" y="147.65" font-size="8.3" text-anchor="end" fill="#2a2a2a" textLength="4.39" lengthAdjust="spacingAndGlyphs">0</text><line x1="460.8" y1="124.82000000000001" x2="463.8" y2="124.82000000000001" stroke="#2b2b2b" stroke-width="1.2"/><text x="459.4" y="128.07" font-size="8.3" text-anchor="end" fill="#2a2a2a" textLength="11.94" lengthAdjust="spacingAndGlyphs">0.5</text><line x1="460.8" y1="105.24000000000001" x2="463.8" y2="105.24000000000001" stroke="#2b2b2b" stroke-width="1.2"/><text x="459.4" y="108.49000000000001" font-size="8.3" text-anchor="end" fill="#2a2a2a" textLength="11.94" lengthAdjust="spacingAndGlyphs">1.0</text><line x1="460.8" y1="85.66" x2="463.8" y2="85.66" stroke="#2b2b2b" stroke-width="1.2"/><text x="459.4" y="88.91" font-size="8.3" text-anchor="end" fill="#2a2a2a" textLength="11.94" lengthAdjust="spacingAndGlyphs">1.5</text><line x1="460.8" y1="66.08" x2="463.8" y2="66.08" stroke="#2b2b2b" stroke-width="1.2"/><text x="459.4" y="69.33" font-size="8.3" text-anchor="end" fill="#2a2a2a" textLength="11.94" lengthAdjust="spacingAndGlyphs">2.0</text><line x1="460.8" y1="46.5" x2="463.8" y2="46.5" stroke="#2b2b2b" stroke-width="1.2"/><text x="459.4" y="49.75" font-size="8.3" text-anchor="end" fill="#2a2a2a" textLength="11.94" lengthAdjust="spacingAndGlyphs">2.5</text><line x1="472.9" y1="128.14860000000002" x2="472.9" y2="126.38640000000001" stroke="#000" stroke-width="1.7"/><line x1="469.5" y1="126.38640000000001" x2="476.29999999999995" y2="126.38640000000001" stroke="#000" stroke-width="1.6"/><rect x="467.15" y="128.89860000000002" width="11.5" height="15.50139999999999" fill="#fff" stroke="#000" stroke-width="1.5"/><line x1="490.85" y1="129.9108" x2="490.85" y2="127.1696" stroke="#000" stroke-width="1.7"/><line x1="487.45000000000005" y1="127.1696" x2="494.25" y2="127.1696" stroke="#000" stroke-width="1.6"/><rect x="485.15" y="130.6608" width="11.400000000000034" height="13.739200000000011" fill="#000" stroke="#000" stroke-width="1.5"/><line x1="509.05" y1="66.86319999999999" x2="509.05" y2="53.9404" stroke="#000" stroke-width="1.7"/><line x1="505.65000000000003" y1="53.9404" x2="512.45" y2="53.9404" stroke="#000" stroke-width="1.6"/><rect x="503.35" y="67.61319999999999" width="11.399999999999977" height="76.78680000000001" fill="url(#hatch)" stroke="#000" stroke-width="1.5"/><line x1="472.8" y1="144.4" x2="472.8" y2="147.4" stroke="#2b2b2b" stroke-width="1.1"/><line x1="491.2" y1="144.4" x2="491.2" y2="147.4" stroke="#2b2b2b" stroke-width="1.1"/><line x1="509.2" y1="144.4" x2="509.2" y2="147.4" stroke="#2b2b2b" stroke-width="1.1"/><text transform="translate(439.40,139.10) rotate(-90)" font-size="8.4" fill="#2a2a2a" textLength="88.90" lengthAdjust="spacingAndGlyphs">IL-17 production (ng/ml)</text><line x1="477.2" y1="44.6" x2="509.6" y2="44.6" stroke="#505050" stroke-width="1.2"/><polygon points="485.40,37.10 486.17,38.84 488.06,39.03 486.65,40.31 487.05,42.17 485.40,41.22 483.75,42.17 484.15,40.31 482.74,39.03 484.63,38.84" fill="#2a2a2a"/><polygon points="492.10,37.10 492.87,38.84 494.76,39.03 493.35,40.31 493.75,42.17 492.10,41.22 490.45,42.17 490.85,40.31 489.44,39.03 491.33,38.84" fill="#2a2a2a"/><polygon points="498.80,37.10 499.57,38.84 501.46,39.03 500.05,40.31 500.45,42.17 498.80,41.22 497.15,42.17 497.55,40.31 496.14,39.03 498.03,38.84" fill="#2a2a2a"/><line x1="463.8" y1="230.6" x2="463.8" y2="328.70000000000005" stroke="#2b2b2b" stroke-width="1.3"/><line x1="460.8" y1="328.1" x2="518.1" y2="328.1" stroke="#2b2b2b" stroke-width="1.3"/><line x1="460.8" y1="328.1" x2="463.8" y2="328.1" stroke="#2b2b2b" stroke-width="1.2"/><text x="459.6" y="331.35" font-size="8.3" text-anchor="end" fill="#2a2a2a" textLength="4.39" lengthAdjust="spacingAndGlyphs">0</text><line x1="460.8" y1="308.72" x2="463.8" y2="308.72" stroke="#2b2b2b" stroke-width="1.2"/><text x="459.6" y="311.97" font-size="8.3" text-anchor="end" fill="#2a2a2a" textLength="4.39" lengthAdjust="spacingAndGlyphs">5</text><line x1="460.8" y1="289.34000000000003" x2="463.8" y2="289.34000000000003" stroke="#2b2b2b" stroke-width="1.2"/><text x="459.6" y="292.59000000000003" font-size="8.3" text-anchor="end" fill="#2a2a2a" textLength="8.79" lengthAdjust="spacingAndGlyphs">10</text><line x1="460.8" y1="269.96000000000004" x2="463.8" y2="269.96000000000004" stroke="#2b2b2b" stroke-width="1.2"/><text x="459.6" y="273.21000000000004" font-size="8.3" text-anchor="end" fill="#2a2a2a" textLength="8.79" lengthAdjust="spacingAndGlyphs">15</text><line x1="460.8" y1="250.57999999999998" x2="463.8" y2="250.57999999999998" stroke="#2b2b2b" stroke-width="1.2"/><text x="459.6" y="253.82999999999998" font-size="8.3" text-anchor="end" fill="#2a2a2a" textLength="8.79" lengthAdjust="spacingAndGlyphs">20</text><line x1="460.8" y1="231.2" x2="463.8" y2="231.2" stroke="#2b2b2b" stroke-width="1.2"/><text x="459.6" y="234.45" font-size="8.3" text-anchor="end" fill="#2a2a2a" textLength="8.79" lengthAdjust="spacingAndGlyphs">25</text><line x1="472.9" y1="306.9758" x2="472.9" y2="303.6812" stroke="#000" stroke-width="1.7"/><line x1="469.5" y1="303.6812" x2="476.29999999999995" y2="303.6812" stroke="#000" stroke-width="1.6"/><rect x="467.15" y="307.7258" width="11.5" height="20.37420000000003" fill="#fff" stroke="#000" stroke-width="1.5"/><line x1="490.85" y1="309.1076" x2="490.85" y2="304.45640000000003" stroke="#000" stroke-width="1.7"/><line x1="487.45000000000005" y1="304.45640000000003" x2="494.25" y2="304.45640000000003" stroke="#000" stroke-width="1.6"/><rect x="485.15" y="309.8576" width="11.400000000000034" height="18.242400000000032" fill="#000" stroke="#000" stroke-width="1.5"/><line x1="509.05" y1="259.4948" x2="509.05" y2="238.56439999999998" stroke="#000" stroke-width="1.7"/><line x1="505.65000000000003" y1="238.56439999999998" x2="512.45" y2="238.56439999999998" stroke="#000" stroke-width="1.6"/><rect x="503.35" y="260.2448" width="11.399999999999977" height="67.85520000000002" fill="url(#hatch)" stroke="#000" stroke-width="1.5"/><line x1="472.8" y1="328.1" x2="472.8" y2="331.1" stroke="#2b2b2b" stroke-width="1.1"/><line x1="491.2" y1="328.1" x2="491.2" y2="331.1" stroke="#2b2b2b" stroke-width="1.1"/><line x1="509.2" y1="328.1" x2="509.2" y2="331.1" stroke="#2b2b2b" stroke-width="1.1"/><text transform="translate(439.00,321.10) rotate(-90)" font-size="8.4" fill="#2a2a2a" textLength="81.00" lengthAdjust="spacingAndGlyphs">IL-22 production (ng/ml)</text><line x1="472.4" y1="227.6" x2="509.6" y2="227.6" stroke="#505050" stroke-width="1.2"/><polygon points="488.75,219.60 489.52,221.34 491.41,221.53 490.00,222.81 490.40,224.67 488.75,223.72 487.10,224.67 487.50,222.81 486.09,221.53 487.98,221.34" fill="#2a2a2a"/><polygon points="495.20,219.60 495.97,221.34 497.86,221.53 496.45,222.81 496.85,224.67 495.20,223.72 493.55,224.67 493.95,222.81 492.54,221.53 494.43,221.34" fill="#2a2a2a"/><line x1="464.6" y1="409.2" x2="464.6" y2="506.8" stroke="#2b2b2b" stroke-width="1.3"/><line x1="461.6" y1="506.2" x2="518.1" y2="506.2" stroke="#2b2b2b" stroke-width="1.3"/><line x1="461.6" y1="506.2" x2="464.6" y2="506.2" stroke="#2b2b2b" stroke-width="1.2"/><text x="459.8" y="509.45" font-size="8.3" text-anchor="end" fill="#2a2a2a" textLength="4.39" lengthAdjust="spacingAndGlyphs">0</text><line x1="461.6" y1="474.06666666666666" x2="464.6" y2="474.06666666666666" stroke="#2b2b2b" stroke-width="1.2"/><text x="459.8" y="477.31666666666666" font-size="8.3" text-anchor="end" fill="#2a2a2a" textLength="4.39" lengthAdjust="spacingAndGlyphs">5</text><line x1="461.6" y1="441.93333333333334" x2="464.6" y2="441.93333333333334" stroke="#2b2b2b" stroke-width="1.2"/><text x="459.8" y="445.18333333333334" font-size="8.3" text-anchor="end" fill="#2a2a2a" textLength="8.79" lengthAdjust="spacingAndGlyphs">10</text><line x1="461.6" y1="409.8" x2="464.6" y2="409.8" stroke="#2b2b2b" stroke-width="1.2"/><text x="459.8" y="413.05" font-size="8.3" text-anchor="end" fill="#2a2a2a" textLength="8.79" lengthAdjust="spacingAndGlyphs">15</text><line x1="473.4" y1="490.1333333333333" x2="473.4" y2="487.884" stroke="#000" stroke-width="1.7"/><line x1="470.0" y1="487.884" x2="476.79999999999995" y2="487.884" stroke="#000" stroke-width="1.6"/><rect x="467.65" y="490.8833333333333" width="11.5" height="15.316666666666663" fill="#fff" stroke="#000" stroke-width="1.5"/><line x1="491.35" y1="490.776" x2="491.35" y2="486.92" stroke="#000" stroke-width="1.7"/><line x1="487.95000000000005" y1="486.92" x2="494.75" y2="486.92" stroke="#000" stroke-width="1.6"/><rect x="485.65" y="491.526" width="11.400000000000034" height="14.673999999999978" fill="#000" stroke="#000" stroke-width="1.5"/><line x1="509.55" y1="445.78933333333333" x2="509.55" y2="435.50666666666666" stroke="#000" stroke-width="1.7"/><line x1="506.15000000000003" y1="435.50666666666666" x2="512.95" y2="435.50666666666666" stroke="#000" stroke-width="1.6"/><rect x="503.85" y="446.53933333333333" width="11.399999999999977" height="59.66066666666666" fill="url(#hatch)" stroke="#000" stroke-width="1.5"/><line x1="473.2" y1="506.2" x2="473.2" y2="509.2" stroke="#2b2b2b" stroke-width="1.1"/><line x1="491.59999999999997" y1="506.2" x2="491.59999999999997" y2="509.2" stroke="#2b2b2b" stroke-width="1.1"/><line x1="509.59999999999997" y1="506.2" x2="509.59999999999997" y2="509.2" stroke="#2b2b2b" stroke-width="1.1"/><text transform="translate(439.00,499.90) rotate(-90)" font-size="8.4" fill="#2a2a2a" textLength="90.70" lengthAdjust="spacingAndGlyphs">IFN-&#947; production (ng/ml)</text><line x1="472.1" y1="407.4" x2="510.2" y2="407.4" stroke="#505050" stroke-width="1.2"/><polygon points="488.30,400.60 489.07,402.34 490.96,402.53 489.55,403.81 489.95,405.67 488.30,404.72 486.65,405.67 487.05,403.81 485.64,402.53 487.53,402.34" fill="#2a2a2a"/><polygon points="495.20,400.60 495.97,402.34 497.86,402.53 496.45,403.81 496.85,405.67 495.20,404.72 493.55,405.67 493.95,403.81 492.54,402.53 494.43,402.34" fill="#2a2a2a"/><text x="14.74" y="164.70" font-size="8.4" textLength="4.54" lengthAdjust="spacingAndGlyphs" fill="#2a2a2a">T</text><text x="19.43" y="167.60" font-size="8.4" textLength="12.25" lengthAdjust="spacingAndGlyphs" fill="#2a2a2a">EM</text><text x="3.81" y="176.80" font-size="8.4" textLength="36.50" lengthAdjust="spacingAndGlyphs" fill="#2a2a2a">Basophils</text><text x="13.82" y="189.20" font-size="8.4" textLength="5.95" lengthAdjust="spacingAndGlyphs" fill="#2a2a2a">H</text><text x="19.99" y="191.70" font-size="8.4" textLength="3.75" lengthAdjust="spacingAndGlyphs" fill="#2a2a2a">1</text><text x="24.15" y="189.20" font-size="8.4" textLength="5.73" lengthAdjust="spacingAndGlyphs" fill="#2a2a2a">R</text><line x1="48.5" y1="162.70000000000002" x2="51.7" y2="162.70000000000002" stroke="#3a3a3a" stroke-width="1.05"/><line x1="50.1" y1="161.10000000000002" x2="50.1" y2="164.3" stroke="#3a3a3a" stroke-width="1.05"/><line x1="81.2" y1="162.70000000000002" x2="84.39999999999999" y2="162.70000000000002" stroke="#3a3a3a" stroke-width="1.05"/><line x1="82.8" y1="161.10000000000002" x2="82.8" y2="164.3" stroke="#3a3a3a" stroke-width="1.05"/><line x1="114.0" y1="162.70000000000002" x2="117.19999999999999" y2="162.70000000000002" stroke="#3a3a3a" stroke-width="1.05"/><line x1="115.6" y1="161.10000000000002" x2="115.6" y2="164.3" stroke="#3a3a3a" stroke-width="1.05"/><line x1="49.0" y1="175.1" x2="51.2" y2="175.1" stroke="#555" stroke-width="1.0"/><line x1="81.2" y1="174.9" x2="84.39999999999999" y2="174.9" stroke="#3a3a3a" stroke-width="1.05"/><line x1="82.8" y1="173.3" x2="82.8" y2="176.5" stroke="#3a3a3a" stroke-width="1.05"/><line x1="114.0" y1="174.9" x2="117.19999999999999" y2="174.9" stroke="#3a3a3a" stroke-width="1.05"/><line x1="115.6" y1="173.3" x2="115.6" y2="176.5" stroke="#3a3a3a" stroke-width="1.05"/><line x1="49.0" y1="186.2" x2="51.2" y2="186.2" stroke="#555" stroke-width="1.0"/><line x1="81.7" y1="186.2" x2="83.89999999999999" y2="186.2" stroke="#555" stroke-width="1.0"/><line x1="114.0" y1="186.0" x2="117.19999999999999" y2="186.0" stroke="#3a3a3a" stroke-width="1.05"/><line x1="115.6" y1="184.4" x2="115.6" y2="187.6" stroke="#3a3a3a" stroke-width="1.05"/><text x="142.74" y="164.70" font-size="8.4" textLength="4.54" lengthAdjust="spacingAndGlyphs" fill="#2a2a2a">T</text><text x="147.43" y="167.60" font-size="8.4" textLength="12.25" lengthAdjust="spacingAndGlyphs" fill="#2a2a2a">EM</text><text x="131.81" y="176.80" font-size="8.4" textLength="36.50" lengthAdjust="spacingAndGlyphs" fill="#2a2a2a">Basophils</text><text x="141.82" y="189.20" font-size="8.4" textLength="5.95" lengthAdjust="spacingAndGlyphs" fill="#2a2a2a">H</text><text x="148.58" y="191.70" font-size="8.4" textLength="3.54" lengthAdjust="spacingAndGlyphs" fill="#2a2a2a">2</text><text x="152.15" y="189.20" font-size="8.4" textLength="5.73" lengthAdjust="spacingAndGlyphs" fill="#2a2a2a">R</text><line x1="177.0" y1="162.70000000000002" x2="180.2" y2="162.70000000000002" stroke="#3a3a3a" stroke-width="1.05"/><line x1="178.6" y1="161.10000000000002" x2="178.6" y2="164.3" stroke="#3a3a3a" stroke-width="1.05"/><line x1="210.0" y1="162.70000000000002" x2="213.2" y2="162.70000000000002" stroke="#3a3a3a" stroke-width="1.05"/><line x1="211.6" y1="161.10000000000002" x2="211.6" y2="164.3" stroke="#3a3a3a" stroke-width="1.05"/><line x1="242.0" y1="162.70000000000002" x2="245.2" y2="162.70000000000002" stroke="#3a3a3a" stroke-width="1.05"/><line x1="243.6" y1="161.10000000000002" x2="243.6" y2="164.3" stroke="#3a3a3a" stroke-width="1.05"/><line x1="177.5" y1="175.1" x2="179.7" y2="175.1" stroke="#555" stroke-width="1.0"/><line x1="210.0" y1="174.9" x2="213.2" y2="174.9" stroke="#3a3a3a" stroke-width="1.05"/><line x1="211.6" y1="173.3" x2="211.6" y2="176.5" stroke="#3a3a3a" stroke-width="1.05"/><line x1="242.0" y1="174.9" x2="245.2" y2="174.9" stroke="#3a3a3a" stroke-width="1.05"/><line x1="243.6" y1="173.3" x2="243.6" y2="176.5" stroke="#3a3a3a" stroke-width="1.05"/><line x1="177.5" y1="186.2" x2="179.7" y2="186.2" stroke="#555" stroke-width="1.0"/><line x1="210.5" y1="186.2" x2="212.7" y2="186.2" stroke="#555" stroke-width="1.0"/><line x1="242.0" y1="186.0" x2="245.2" y2="186.0" stroke="#3a3a3a" stroke-width="1.05"/><line x1="243.6" y1="184.4" x2="243.6" y2="187.6" stroke="#3a3a3a" stroke-width="1.05"/><text x="270.74" y="164.70" font-size="8.4" textLength="4.54" lengthAdjust="spacingAndGlyphs" fill="#2a2a2a">T</text><text x="275.43" y="167.60" font-size="8.4" textLength="12.25" lengthAdjust="spacingAndGlyphs" fill="#2a2a2a">EM</text><text x="259.81" y="176.80" font-size="8.4" textLength="36.50" lengthAdjust="spacingAndGlyphs" fill="#2a2a2a">Basophils</text><text x="269.82" y="189.20" font-size="8.4" textLength="5.95" lengthAdjust="spacingAndGlyphs" fill="#2a2a2a">H</text><text x="276.77" y="191.70" font-size="8.4" textLength="3.21" lengthAdjust="spacingAndGlyphs" fill="#2a2a2a">4</text><text x="280.15" y="189.20" font-size="8.4" textLength="5.73" lengthAdjust="spacingAndGlyphs" fill="#2a2a2a">R</text><line x1="304.2" y1="162.70000000000002" x2="307.40000000000003" y2="162.70000000000002" stroke="#3a3a3a" stroke-width="1.05"/><line x1="305.8" y1="161.10000000000002" x2="305.8" y2="164.3" stroke="#3a3a3a" stroke-width="1.05"/><line x1="337.0" y1="162.70000000000002" x2="340.20000000000005" y2="162.70000000000002" stroke="#3a3a3a" stroke-width="1.05"/><line x1="338.6" y1="161.10000000000002" x2="338.6" y2="164.3" stroke="#3a3a3a" stroke-width="1.05"/><line x1="369.2" y1="162.70000000000002" x2="372.40000000000003" y2="162.70000000000002" stroke="#3a3a3a" stroke-width="1.05"/><line x1="370.8" y1="161.10000000000002" x2="370.8" y2="164.3" stroke="#3a3a3a" stroke-width="1.05"/><line x1="304.7" y1="175.1" x2="306.90000000000003" y2="175.1" stroke="#555" stroke-width="1.0"/><line x1="337.0" y1="174.9" x2="340.20000000000005" y2="174.9" stroke="#3a3a3a" stroke-width="1.05"/><line x1="338.6" y1="173.3" x2="338.6" y2="176.5" stroke="#3a3a3a" stroke-width="1.05"/><line x1="369.2" y1="174.9" x2="372.40000000000003" y2="174.9" stroke="#3a3a3a" stroke-width="1.05"/><line x1="370.8" y1="173.3" x2="370.8" y2="176.5" stroke="#3a3a3a" stroke-width="1.05"/><line x1="304.7" y1="186.2" x2="306.90000000000003" y2="186.2" stroke="#555" stroke-width="1.0"/><line x1="337.5" y1="186.2" x2="339.70000000000005" y2="186.2" stroke="#555" stroke-width="1.0"/><line x1="369.2" y1="186.0" x2="372.40000000000003" y2="186.0" stroke="#3a3a3a" stroke-width="1.05"/><line x1="370.8" y1="184.4" x2="370.8" y2="187.6" stroke="#3a3a3a" stroke-width="1.05"/><text x="14.74" y="347.40" font-size="8.4" textLength="4.54" lengthAdjust="spacingAndGlyphs" fill="#2a2a2a">T</text><text x="19.43" y="350.30" font-size="8.4" textLength="12.25" lengthAdjust="spacingAndGlyphs" fill="#2a2a2a">EM</text><text x="3.81" y="359.30" font-size="8.4" textLength="36.50" lengthAdjust="spacingAndGlyphs" fill="#2a2a2a">Basophils</text><text x="13.82" y="371.90" font-size="8.4" textLength="5.95" lengthAdjust="spacingAndGlyphs" fill="#2a2a2a">H</text><text x="19.99" y="374.40" font-size="8.4" textLength="3.75" lengthAdjust="spacingAndGlyphs" fill="#2a2a2a">1</text><text x="24.15" y="371.90" font-size="8.4" textLength="5.73" lengthAdjust="spacingAndGlyphs" fill="#2a2a2a">R</text><line x1="47.8" y1="345.40000000000003" x2="51.0" y2="345.40000000000003" stroke="#3a3a3a" stroke-width="1.05"/><line x1="49.4" y1="343.8" x2="49.4" y2="347.00000000000006" stroke="#3a3a3a" stroke-width="1.05"/><line x1="80.3" y1="345.40000000000003" x2="83.49999999999999" y2="345.40000000000003" stroke="#3a3a3a" stroke-width="1.05"/><line x1="81.89999999999999" y1="343.8" x2="81.89999999999999" y2="347.00000000000006" stroke="#3a3a3a" stroke-width="1.05"/><line x1="113.1" y1="345.40000000000003" x2="116.29999999999998" y2="345.40000000000003" stroke="#3a3a3a" stroke-width="1.05"/><line x1="114.69999999999999" y1="343.8" x2="114.69999999999999" y2="347.00000000000006" stroke="#3a3a3a" stroke-width="1.05"/><line x1="48.3" y1="357.6" x2="50.5" y2="357.6" stroke="#555" stroke-width="1.0"/><line x1="80.3" y1="357.40000000000003" x2="83.49999999999999" y2="357.40000000000003" stroke="#3a3a3a" stroke-width="1.05"/><line x1="81.89999999999999" y1="355.8" x2="81.89999999999999" y2="359.00000000000006" stroke="#3a3a3a" stroke-width="1.05"/><line x1="113.1" y1="357.40000000000003" x2="116.29999999999998" y2="357.40000000000003" stroke="#3a3a3a" stroke-width="1.05"/><line x1="114.69999999999999" y1="355.8" x2="114.69999999999999" y2="359.00000000000006" stroke="#3a3a3a" stroke-width="1.05"/><line x1="48.3" y1="368.9" x2="50.5" y2="368.9" stroke="#555" stroke-width="1.0"/><line x1="80.8" y1="368.9" x2="82.99999999999999" y2="368.9" stroke="#555" stroke-width="1.0"/><line x1="113.1" y1="368.7" x2="116.29999999999998" y2="368.7" stroke="#3a3a3a" stroke-width="1.05"/><line x1="114.69999999999999" y1="367.09999999999997" x2="114.69999999999999" y2="370.3" stroke="#3a3a3a" stroke-width="1.05"/><text x="142.74" y="347.40" font-size="8.4" textLength="4.54" lengthAdjust="spacingAndGlyphs" fill="#2a2a2a">T</text><text x="147.43" y="350.30" font-size="8.4" textLength="12.25" lengthAdjust="spacingAndGlyphs" fill="#2a2a2a">EM</text><text x="131.81" y="359.30" font-size="8.4" textLength="36.50" lengthAdjust="spacingAndGlyphs" fill="#2a2a2a">Basophils</text><text x="141.82" y="371.90" font-size="8.4" textLength="5.95" lengthAdjust="spacingAndGlyphs" fill="#2a2a2a">H</text><text x="148.58" y="374.40" font-size="8.4" textLength="3.54" lengthAdjust="spacingAndGlyphs" fill="#2a2a2a">2</text><text x="152.15" y="371.90" font-size="8.4" textLength="5.73" lengthAdjust="spacingAndGlyphs" fill="#2a2a2a">R</text><line x1="175.9" y1="345.40000000000003" x2="179.1" y2="345.40000000000003" stroke="#3a3a3a" stroke-width="1.05"/><line x1="177.5" y1="343.8" x2="177.5" y2="347.00000000000006" stroke="#3a3a3a" stroke-width="1.05"/><line x1="208.5" y1="345.40000000000003" x2="211.7" y2="345.40000000000003" stroke="#3a3a3a" stroke-width="1.05"/><line x1="210.1" y1="343.8" x2="210.1" y2="347.00000000000006" stroke="#3a3a3a" stroke-width="1.05"/><line x1="240.8" y1="345.40000000000003" x2="244.0" y2="345.40000000000003" stroke="#3a3a3a" stroke-width="1.05"/><line x1="242.4" y1="343.8" x2="242.4" y2="347.00000000000006" stroke="#3a3a3a" stroke-width="1.05"/><line x1="176.4" y1="357.6" x2="178.6" y2="357.6" stroke="#555" stroke-width="1.0"/><line x1="208.5" y1="357.40000000000003" x2="211.7" y2="357.40000000000003" stroke="#3a3a3a" stroke-width="1.05"/><line x1="210.1" y1="355.8" x2="210.1" y2="359.00000000000006" stroke="#3a3a3a" stroke-width="1.05"/><line x1="240.8" y1="357.40000000000003" x2="244.0" y2="357.40000000000003" stroke="#3a3a3a" stroke-width="1.05"/><line x1="242.4" y1="355.8" x2="242.4" y2="359.00000000000006" stroke="#3a3a3a" stroke-width="1.05"/><line x1="176.4" y1="368.9" x2="178.6" y2="368.9" stroke="#555" stroke-width="1.0"/><line x1="209.0" y1="368.9" x2="211.2" y2="368.9" stroke="#555" stroke-width="1.0"/><line x1="240.8" y1="368.7" x2="244.0" y2="368.7" stroke="#3a3a3a" stroke-width="1.05"/><line x1="242.4" y1="367.09999999999997" x2="242.4" y2="370.3" stroke="#3a3a3a" stroke-width="1.05"/><text x="270.74" y="347.40" font-size="8.4" textLength="4.54" lengthAdjust="spacingAndGlyphs" fill="#2a2a2a">T</text><text x="275.43" y="350.30" font-size="8.4" textLength="12.25" lengthAdjust="spacingAndGlyphs" fill="#2a2a2a">EM</text><text x="259.81" y="359.30" font-size="8.4" textLength="36.50" lengthAdjust="spacingAndGlyphs" fill="#2a2a2a">Basophils</text><text x="269.82" y="371.90" font-size="8.4" textLength="5.95" lengthAdjust="spacingAndGlyphs" fill="#2a2a2a">H</text><text x="276.77" y="374.40" font-size="8.4" textLength="3.21" lengthAdjust="spacingAndGlyphs" fill="#2a2a2a">4</text><text x="280.15" y="371.90" font-size="8.4" textLength="5.73" lengthAdjust="spacingAndGlyphs" fill="#2a2a2a">R</text><line x1="304.6" y1="345.40000000000003" x2="307.80000000000007" y2="345.40000000000003" stroke="#3a3a3a" stroke-width="1.05"/><line x1="306.20000000000005" y1="343.8" x2="306.20000000000005" y2="347.00000000000006" stroke="#3a3a3a" stroke-width="1.05"/><line x1="337.0" y1="345.40000000000003" x2="340.20000000000005" y2="345.40000000000003" stroke="#3a3a3a" stroke-width="1.05"/><line x1="338.6" y1="343.8" x2="338.6" y2="347.00000000000006" stroke="#3a3a3a" stroke-width="1.05"/><line x1="369.3" y1="345.40000000000003" x2="372.50000000000006" y2="345.40000000000003" stroke="#3a3a3a" stroke-width="1.05"/><line x1="370.90000000000003" y1="343.8" x2="370.90000000000003" y2="347.00000000000006" stroke="#3a3a3a" stroke-width="1.05"/><line x1="305.1" y1="357.6" x2="307.30000000000007" y2="357.6" stroke="#555" stroke-width="1.0"/><line x1="337.0" y1="357.40000000000003" x2="340.20000000000005" y2="357.40000000000003" stroke="#3a3a3a" stroke-width="1.05"/><line x1="338.6" y1="355.8" x2="338.6" y2="359.00000000000006" stroke="#3a3a3a" stroke-width="1.05"/><line x1="369.3" y1="357.40000000000003" x2="372.50000000000006" y2="357.40000000000003" stroke="#3a3a3a" stroke-width="1.05"/><line x1="370.90000000000003" y1="355.8" x2="370.90000000000003" y2="359.00000000000006" stroke="#3a3a3a" stroke-width="1.05"/><line x1="305.1" y1="368.9" x2="307.30000000000007" y2="368.9" stroke="#555" stroke-width="1.0"/><line x1="337.5" y1="368.9" x2="339.70000000000005" y2="368.9" stroke="#555" stroke-width="1.0"/><line x1="369.3" y1="368.7" x2="372.50000000000006" y2="368.7" stroke="#3a3a3a" stroke-width="1.05"/><line x1="370.90000000000003" y1="367.09999999999997" x2="370.90000000000003" y2="370.3" stroke="#3a3a3a" stroke-width="1.05"/><text x="14.74" y="527.10" font-size="8.4" textLength="4.54" lengthAdjust="spacingAndGlyphs" fill="#2a2a2a">T</text><text x="19.43" y="530.00" font-size="8.4" textLength="12.25" lengthAdjust="spacingAndGlyphs" fill="#2a2a2a">EM</text><text x="3.81" y="539.10" font-size="8.4" textLength="36.50" lengthAdjust="spacingAndGlyphs" fill="#2a2a2a">Basophils</text><text x="13.82" y="551.90" font-size="8.4" textLength="5.95" lengthAdjust="spacingAndGlyphs" fill="#2a2a2a">H</text><text x="19.99" y="554.40" font-size="8.4" textLength="3.75" lengthAdjust="spacingAndGlyphs" fill="#2a2a2a">1</text><text x="24.15" y="551.90" font-size="8.4" textLength="5.73" lengthAdjust="spacingAndGlyphs" fill="#2a2a2a">R</text><line x1="49.0" y1="525.0999999999999" x2="52.2" y2="525.0999999999999" stroke="#3a3a3a" stroke-width="1.05"/><line x1="50.6" y1="523.4999999999999" x2="50.6" y2="526.6999999999999" stroke="#3a3a3a" stroke-width="1.05"/><line x1="81.3" y1="525.0999999999999" x2="84.49999999999999" y2="525.0999999999999" stroke="#3a3a3a" stroke-width="1.05"/><line x1="82.89999999999999" y1="523.4999999999999" x2="82.89999999999999" y2="526.6999999999999" stroke="#3a3a3a" stroke-width="1.05"/><line x1="113.6" y1="525.0999999999999" x2="116.79999999999998" y2="525.0999999999999" stroke="#3a3a3a" stroke-width="1.05"/><line x1="115.19999999999999" y1="523.4999999999999" x2="115.19999999999999" y2="526.6999999999999" stroke="#3a3a3a" stroke-width="1.05"/><line x1="49.5" y1="537.4" x2="51.7" y2="537.4" stroke="#555" stroke-width="1.0"/><line x1="81.3" y1="537.1999999999999" x2="84.49999999999999" y2="537.1999999999999" stroke="#3a3a3a" stroke-width="1.05"/><line x1="82.89999999999999" y1="535.5999999999999" x2="82.89999999999999" y2="538.8" stroke="#3a3a3a" stroke-width="1.05"/><line x1="113.6" y1="537.1999999999999" x2="116.79999999999998" y2="537.1999999999999" stroke="#3a3a3a" stroke-width="1.05"/><line x1="115.19999999999999" y1="535.5999999999999" x2="115.19999999999999" y2="538.8" stroke="#3a3a3a" stroke-width="1.05"/><line x1="49.5" y1="548.9" x2="51.7" y2="548.9" stroke="#555" stroke-width="1.0"/><line x1="81.8" y1="548.9" x2="83.99999999999999" y2="548.9" stroke="#555" stroke-width="1.0"/><line x1="113.6" y1="548.6999999999999" x2="116.79999999999998" y2="548.6999999999999" stroke="#3a3a3a" stroke-width="1.05"/><line x1="115.19999999999999" y1="547.0999999999999" x2="115.19999999999999" y2="550.3" stroke="#3a3a3a" stroke-width="1.05"/><text x="142.74" y="527.10" font-size="8.4" textLength="4.54" lengthAdjust="spacingAndGlyphs" fill="#2a2a2a">T</text><text x="147.43" y="530.00" font-size="8.4" textLength="12.25" lengthAdjust="spacingAndGlyphs" fill="#2a2a2a">EM</text><text x="131.81" y="539.10" font-size="8.4" textLength="36.50" lengthAdjust="spacingAndGlyphs" fill="#2a2a2a">Basophils</text><text x="141.82" y="551.90" font-size="8.4" textLength="5.95" lengthAdjust="spacingAndGlyphs" fill="#2a2a2a">H</text><text x="148.58" y="554.40" font-size="8.4" textLength="3.54" lengthAdjust="spacingAndGlyphs" fill="#2a2a2a">2</text><text x="152.15" y="551.90" font-size="8.4" textLength="5.73" lengthAdjust="spacingAndGlyphs" fill="#2a2a2a">R</text><line x1="175.9" y1="525.0999999999999" x2="179.1" y2="525.0999999999999" stroke="#3a3a3a" stroke-width="1.05"/><line x1="177.5" y1="523.4999999999999" x2="177.5" y2="526.6999999999999" stroke="#3a3a3a" stroke-width="1.05"/><line x1="208.7" y1="525.0999999999999" x2="211.89999999999998" y2="525.0999999999999" stroke="#3a3a3a" stroke-width="1.05"/><line x1="210.29999999999998" y1="523.4999999999999" x2="210.29999999999998" y2="526.6999999999999" stroke="#3a3a3a" stroke-width="1.05"/><line x1="241.0" y1="525.0999999999999" x2="244.2" y2="525.0999999999999" stroke="#3a3a3a" stroke-width="1.05"/><line x1="242.6" y1="523.4999999999999" x2="242.6" y2="526.6999999999999" stroke="#3a3a3a" stroke-width="1.05"/><line x1="176.4" y1="537.4" x2="178.6" y2="537.4" stroke="#555" stroke-width="1.0"/><line x1="208.7" y1="537.1999999999999" x2="211.89999999999998" y2="537.1999999999999" stroke="#3a3a3a" stroke-width="1.05"/><line x1="210.29999999999998" y1="535.5999999999999" x2="210.29999999999998" y2="538.8" stroke="#3a3a3a" stroke-width="1.05"/><line x1="241.0" y1="537.1999999999999" x2="244.2" y2="537.1999999999999" stroke="#3a3a3a" stroke-width="1.05"/><line x1="242.6" y1="535.5999999999999" x2="242.6" y2="538.8" stroke="#3a3a3a" stroke-width="1.05"/><line x1="176.4" y1="548.9" x2="178.6" y2="548.9" stroke="#555" stroke-width="1.0"/><line x1="209.2" y1="548.9" x2="211.39999999999998" y2="548.9" stroke="#555" stroke-width="1.0"/><line x1="241.0" y1="548.6999999999999" x2="244.2" y2="548.6999999999999" stroke="#3a3a3a" stroke-width="1.05"/><line x1="242.6" y1="547.0999999999999" x2="242.6" y2="550.3" stroke="#3a3a3a" stroke-width="1.05"/><text x="270.74" y="527.10" font-size="8.4" textLength="4.54" lengthAdjust="spacingAndGlyphs" fill="#2a2a2a">T</text><text x="275.43" y="530.00" font-size="8.4" textLength="12.25" lengthAdjust="spacingAndGlyphs" fill="#2a2a2a">EM</text><text x="259.81" y="539.10" font-size="8.4" textLength="36.50" lengthAdjust="spacingAndGlyphs" fill="#2a2a2a">Basophils</text><text x="269.82" y="551.90" font-size="8.4" textLength="5.95" lengthAdjust="spacingAndGlyphs" fill="#2a2a2a">H</text><text x="276.77" y="554.40" font-size="8.4" textLength="3.21" lengthAdjust="spacingAndGlyphs" fill="#2a2a2a">4</text><text x="280.15" y="551.90" font-size="8.4" textLength="5.73" lengthAdjust="spacingAndGlyphs" fill="#2a2a2a">R</text><line x1="304.2" y1="525.0999999999999" x2="307.40000000000003" y2="525.0999999999999" stroke="#3a3a3a" stroke-width="1.05"/><line x1="305.8" y1="523.4999999999999" x2="305.8" y2="526.6999999999999" stroke="#3a3a3a" stroke-width="1.05"/><line x1="336.7" y1="525.0999999999999" x2="339.90000000000003" y2="525.0999999999999" stroke="#3a3a3a" stroke-width="1.05"/><line x1="338.3" y1="523.4999999999999" x2="338.3" y2="526.6999999999999" stroke="#3a3a3a" stroke-width="1.05"/><line x1="369.2" y1="525.0999999999999" x2="372.40000000000003" y2="525.0999999999999" stroke="#3a3a3a" stroke-width="1.05"/><line x1="370.8" y1="523.4999999999999" x2="370.8" y2="526.6999999999999" stroke="#3a3a3a" stroke-width="1.05"/><line x1="304.7" y1="537.4" x2="306.90000000000003" y2="537.4" stroke="#555" stroke-width="1.0"/><line x1="336.7" y1="537.1999999999999" x2="339.90000000000003" y2="537.1999999999999" stroke="#3a3a3a" stroke-width="1.05"/><line x1="338.3" y1="535.5999999999999" x2="338.3" y2="538.8" stroke="#3a3a3a" stroke-width="1.05"/><line x1="369.2" y1="537.1999999999999" x2="372.40000000000003" y2="537.1999999999999" stroke="#3a3a3a" stroke-width="1.05"/><line x1="370.8" y1="535.5999999999999" x2="370.8" y2="538.8" stroke="#3a3a3a" stroke-width="1.05"/><line x1="304.7" y1="548.9" x2="306.90000000000003" y2="548.9" stroke="#555" stroke-width="1.0"/><line x1="337.2" y1="548.9" x2="339.40000000000003" y2="548.9" stroke="#555" stroke-width="1.0"/><line x1="369.2" y1="548.6999999999999" x2="372.40000000000003" y2="548.6999999999999" stroke="#3a3a3a" stroke-width="1.05"/><line x1="370.8" y1="547.0999999999999" x2="370.8" y2="550.3" stroke="#3a3a3a" stroke-width="1.05"/><text x="437.16" y="164.40" font-size="8.4" textLength="3.89" lengthAdjust="spacingAndGlyphs" fill="#2a2a2a">T</text><text x="441.06" y="167.30" font-size="8.4" textLength="13.60" lengthAdjust="spacingAndGlyphs" fill="#2a2a2a">EM</text><text x="426.30" y="176.60" font-size="8.4" textLength="37.02" lengthAdjust="spacingAndGlyphs" fill="#2a2a2a">Basophils</text><text x="425.81" y="188.50" font-size="8.4" textLength="37.57" lengthAdjust="spacingAndGlyphs" fill="#2a2a2a">Histamine</text><line x1="471.0" y1="162.4" x2="474.20000000000005" y2="162.4" stroke="#3a3a3a" stroke-width="1.05"/><line x1="472.6" y1="160.8" x2="472.6" y2="164.0" stroke="#3a3a3a" stroke-width="1.05"/><line x1="490.0" y1="162.4" x2="493.20000000000005" y2="162.4" stroke="#3a3a3a" stroke-width="1.05"/><line x1="491.6" y1="160.8" x2="491.6" y2="164.0" stroke="#3a3a3a" stroke-width="1.05"/><line x1="508.4" y1="162.4" x2="511.6" y2="162.4" stroke="#3a3a3a" stroke-width="1.05"/><line x1="510.0" y1="160.8" x2="510.0" y2="164.0" stroke="#3a3a3a" stroke-width="1.05"/><line x1="471.5" y1="174.5" x2="473.70000000000005" y2="174.5" stroke="#555" stroke-width="1.0"/><line x1="490.5" y1="174.5" x2="492.70000000000005" y2="174.5" stroke="#555" stroke-width="1.0"/><line x1="508.4" y1="174.3" x2="511.6" y2="174.3" stroke="#3a3a3a" stroke-width="1.05"/><line x1="510.0" y1="172.70000000000002" x2="510.0" y2="175.9" stroke="#3a3a3a" stroke-width="1.05"/><line x1="471.5" y1="186.1" x2="473.70000000000005" y2="186.1" stroke="#555" stroke-width="1.0"/><line x1="490.0" y1="185.9" x2="493.20000000000005" y2="185.9" stroke="#3a3a3a" stroke-width="1.05"/><line x1="491.6" y1="184.3" x2="491.6" y2="187.5" stroke="#3a3a3a" stroke-width="1.05"/><line x1="508.9" y1="186.1" x2="511.1" y2="186.1" stroke="#555" stroke-width="1.0"/><text x="437.16" y="348.10" font-size="8.4" textLength="3.89" lengthAdjust="spacingAndGlyphs" fill="#2a2a2a">T</text><text x="441.06" y="351.00" font-size="8.4" textLength="13.60" lengthAdjust="spacingAndGlyphs" fill="#2a2a2a">EM</text><text x="426.30" y="359.90" font-size="8.4" textLength="37.02" lengthAdjust="spacingAndGlyphs" fill="#2a2a2a">Basophils</text><text x="425.81" y="371.40" font-size="8.4" textLength="37.57" lengthAdjust="spacingAndGlyphs" fill="#2a2a2a">Histamine</text><line x1="471.0" y1="346.1" x2="474.20000000000005" y2="346.1" stroke="#3a3a3a" stroke-width="1.05"/><line x1="472.6" y1="344.5" x2="472.6" y2="347.70000000000005" stroke="#3a3a3a" stroke-width="1.05"/><line x1="490.0" y1="346.1" x2="493.20000000000005" y2="346.1" stroke="#3a3a3a" stroke-width="1.05"/><line x1="491.6" y1="344.5" x2="491.6" y2="347.70000000000005" stroke="#3a3a3a" stroke-width="1.05"/><line x1="508.4" y1="346.1" x2="511.6" y2="346.1" stroke="#3a3a3a" stroke-width="1.05"/><line x1="510.0" y1="344.5" x2="510.0" y2="347.70000000000005" stroke="#3a3a3a" stroke-width="1.05"/><line x1="471.5" y1="357.8" x2="473.70000000000005" y2="357.8" stroke="#555" stroke-width="1.0"/><line x1="490.5" y1="357.8" x2="492.70000000000005" y2="357.8" stroke="#555" stroke-width="1.0"/><line x1="508.4" y1="357.6" x2="511.6" y2="357.6" stroke="#3a3a3a" stroke-width="1.05"/><line x1="510.0" y1="356.0" x2="510.0" y2="359.20000000000005" stroke="#3a3a3a" stroke-width="1.05"/><line x1="471.5" y1="369.0" x2="473.70000000000005" y2="369.0" stroke="#555" stroke-width="1.0"/><line x1="490.0" y1="368.8" x2="493.20000000000005" y2="368.8" stroke="#3a3a3a" stroke-width="1.05"/><line x1="491.6" y1="367.2" x2="491.6" y2="370.40000000000003" stroke="#3a3a3a" stroke-width="1.05"/><line x1="508.9" y1="369.0" x2="511.1" y2="369.0" stroke="#555" stroke-width="1.0"/><text x="437.16" y="527.10" font-size="8.4" textLength="3.89" lengthAdjust="spacingAndGlyphs" fill="#2a2a2a">T</text><text x="441.06" y="530.00" font-size="8.4" textLength="13.60" lengthAdjust="spacingAndGlyphs" fill="#2a2a2a">EM</text><text x="426.30" y="539.10" font-size="8.4" textLength="37.02" lengthAdjust="spacingAndGlyphs" fill="#2a2a2a">Basophils</text><text x="425.81" y="551.00" font-size="8.4" textLength="37.57" lengthAdjust="spacingAndGlyphs" fill="#2a2a2a">Histamine</text><line x1="471.4" y1="525.0999999999999" x2="474.6" y2="525.0999999999999" stroke="#3a3a3a" stroke-width="1.05"/><line x1="473.0" y1="523.4999999999999" x2="473.0" y2="526.6999999999999" stroke="#3a3a3a" stroke-width="1.05"/><line x1="490.2" y1="525.0999999999999" x2="493.40000000000003" y2="525.0999999999999" stroke="#3a3a3a" stroke-width="1.05"/><line x1="491.8" y1="523.4999999999999" x2="491.8" y2="526.6999999999999" stroke="#3a3a3a" stroke-width="1.05"/><line x1="508.59999999999997" y1="525.0999999999999" x2="511.8" y2="525.0999999999999" stroke="#3a3a3a" stroke-width="1.05"/><line x1="510.2" y1="523.4999999999999" x2="510.2" y2="526.6999999999999" stroke="#3a3a3a" stroke-width="1.05"/><line x1="471.9" y1="537.0" x2="474.1" y2="537.0" stroke="#555" stroke-width="1.0"/><line x1="490.7" y1="537.0" x2="492.90000000000003" y2="537.0" stroke="#555" stroke-width="1.0"/><line x1="508.59999999999997" y1="536.8" x2="511.8" y2="536.8" stroke="#3a3a3a" stroke-width="1.05"/><line x1="510.2" y1="535.1999999999999" x2="510.2" y2="538.4" stroke="#3a3a3a" stroke-width="1.05"/><line x1="471.9" y1="548.6" x2="474.1" y2="548.6" stroke="#555" stroke-width="1.0"/><line x1="490.2" y1="548.4" x2="493.40000000000003" y2="548.4" stroke="#3a3a3a" stroke-width="1.05"/><line x1="491.8" y1="546.8" x2="491.8" y2="550.0" stroke="#3a3a3a" stroke-width="1.05"/><line x1="509.09999999999997" y1="548.6" x2="511.3" y2="548.6" stroke="#555" stroke-width="1.0"/><text x="0.6" y="12.6" font-size="14" font-weight="bold" fill="#000">A</text><text x="429.4" y="12.6" font-size="14" font-weight="bold" fill="#000">B</text><text class="ttl" x="69.99" y="12.50" font-size="12.0" textLength="8.93" lengthAdjust="spacingAndGlyphs" fill="#2a2a2a">H</text><path d="M83.1,9.0 L84.45,9.0 L84.45,17.0 L83.1,17.0 Z M83.3,9.0 L84.2,9.9 L81.6,11.9 L80.9,11.0 Z" fill="#2a2a2a"/><text class="ttl" x="87.25" y="12.50" font-size="12.0" textLength="9.27" lengthAdjust="spacingAndGlyphs" fill="#2a2a2a">R</text><text class="ttl" x="197.49" y="11.80" font-size="12.0" textLength="8.93" lengthAdjust="spacingAndGlyphs" fill="#2a2a2a">H</text><text class="ttl" x="207.47" y="16.20" font-size="10.6" textLength="6.97" lengthAdjust="spacingAndGlyphs" fill="#2a2a2a">2</text><text class="ttl" x="215.28" y="11.80" font-size="12.0" textLength="9.02" lengthAdjust="spacingAndGlyphs" fill="#2a2a2a">R</text><text class="ttl" x="325.56" y="11.70" font-size="12.0" textLength="8.28" lengthAdjust="spacingAndGlyphs" fill="#2a2a2a">H</text><text class="ttl" x="335.35" y="16.10" font-size="10.6" textLength="5.97" lengthAdjust="spacingAndGlyphs" fill="#2a2a2a">4</text><text class="ttl" x="343.24" y="11.70" font-size="12.0" textLength="8.42" lengthAdjust="spacingAndGlyphs" fill="#2a2a2a">R</text>
</svg>
</body></html>
